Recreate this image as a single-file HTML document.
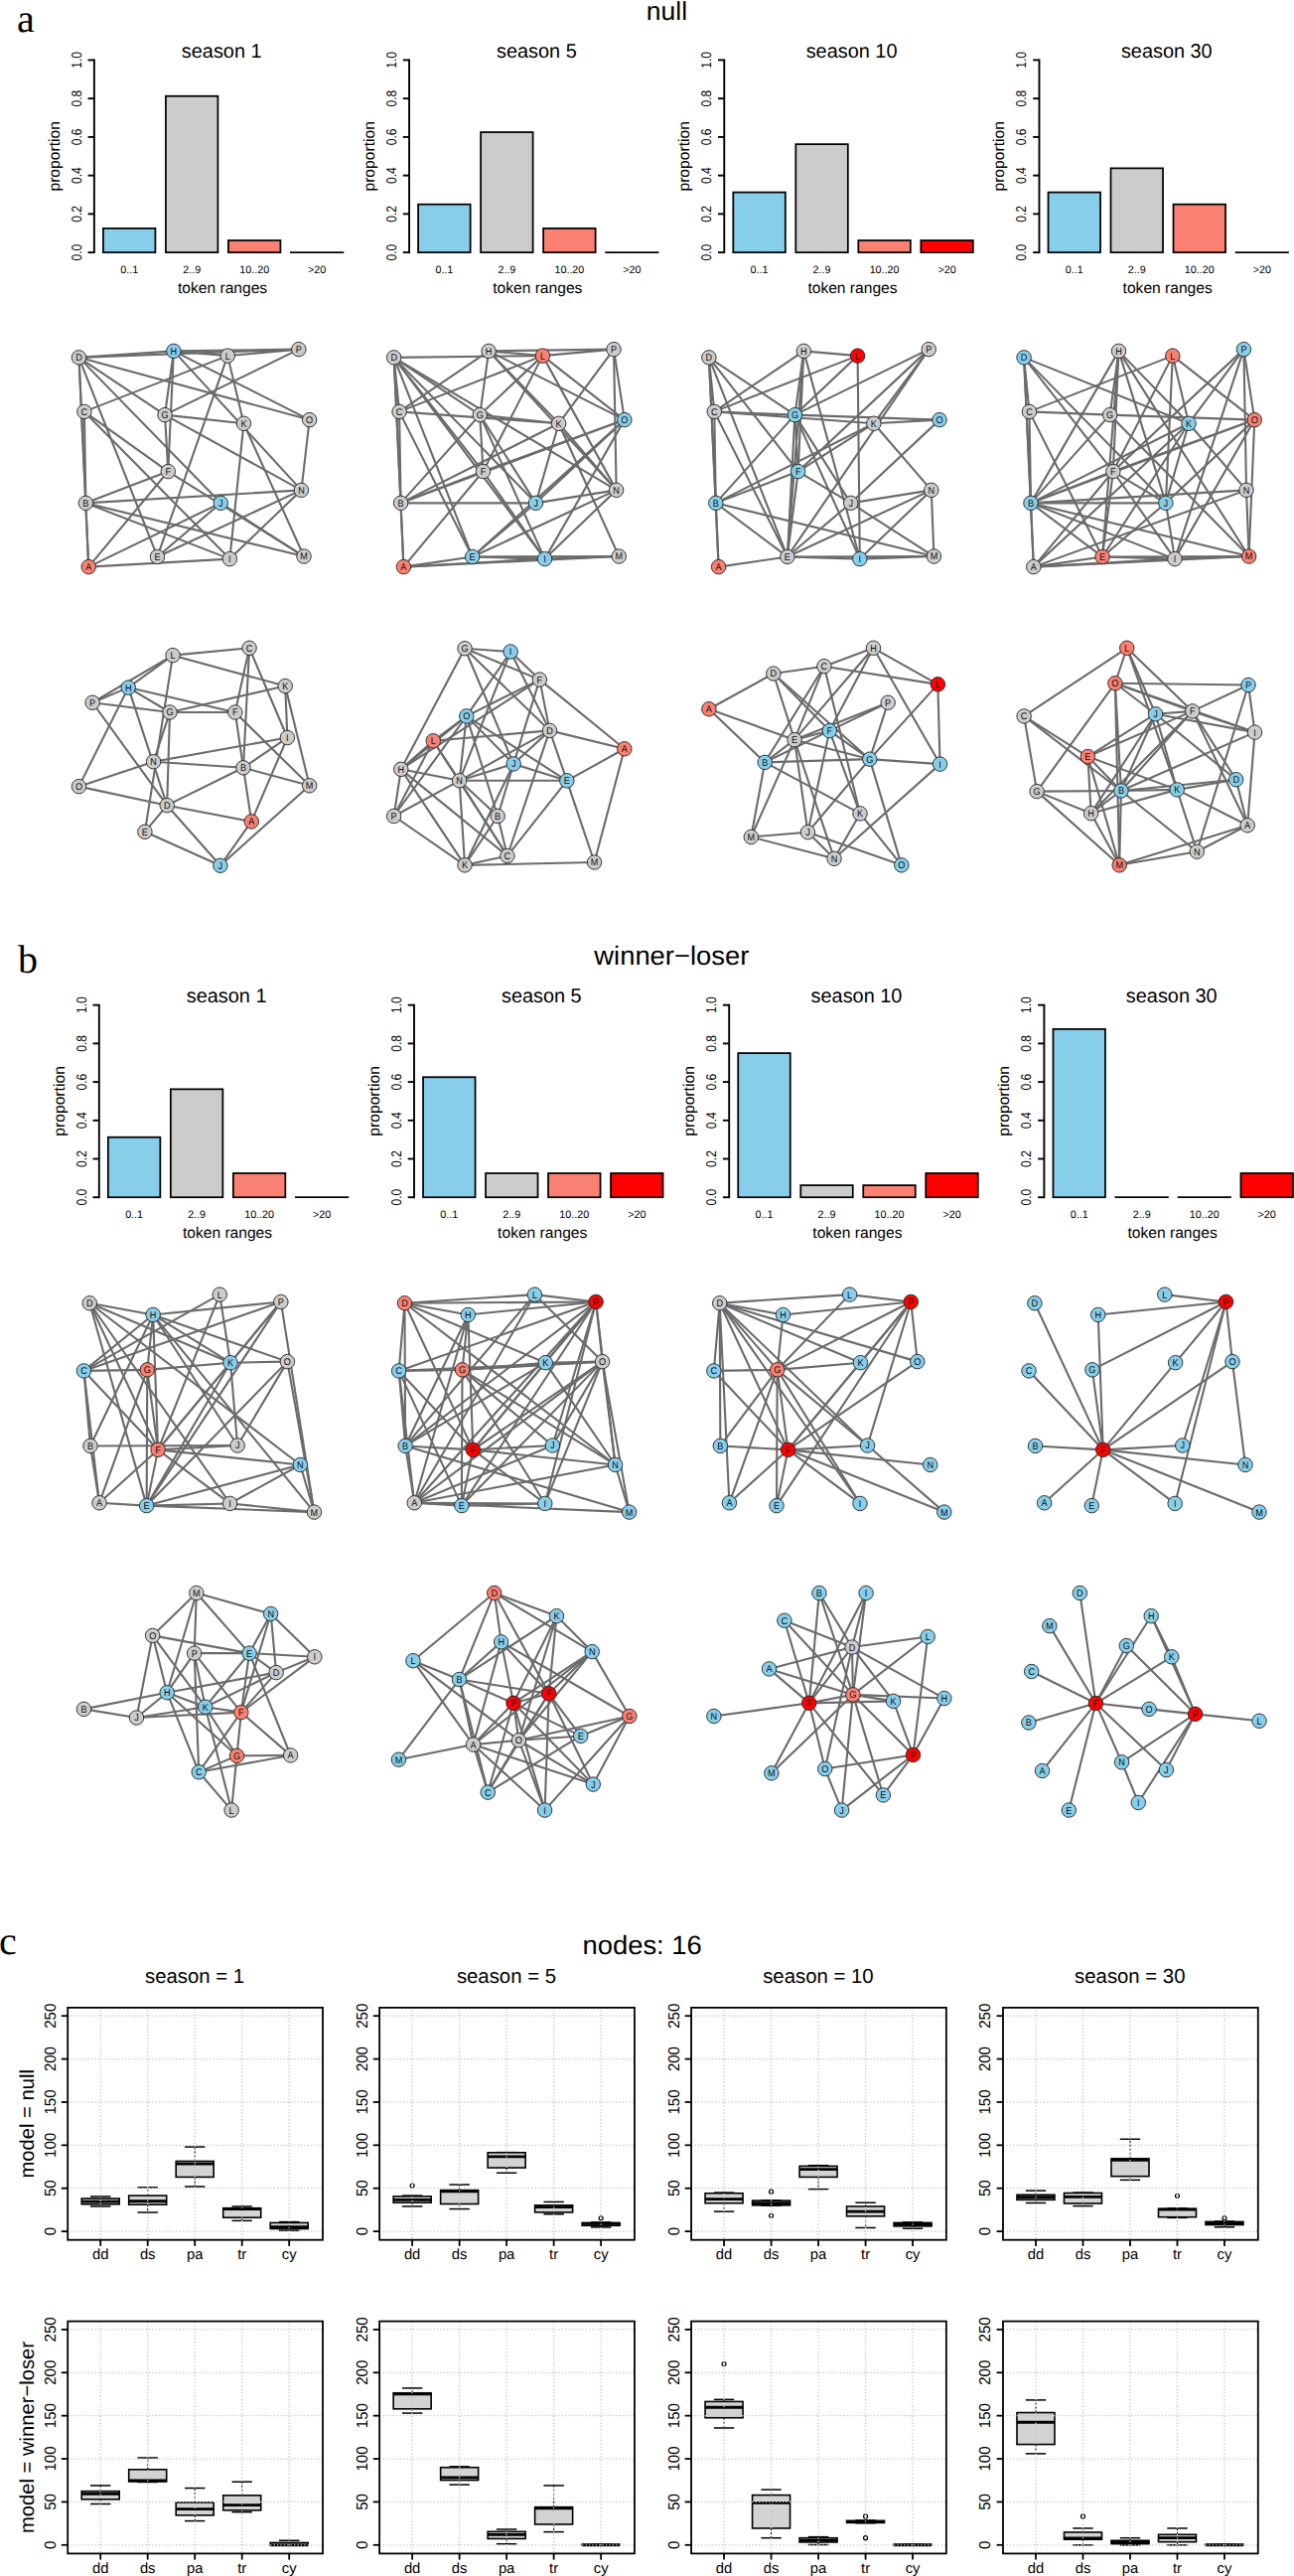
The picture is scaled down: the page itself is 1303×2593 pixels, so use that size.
<!DOCTYPE html>
<html lang="en"><head><meta charset="utf-8"><title>figure</title>
<style>html,body{margin:0;padding:0;background:#fff}svg{display:block}text{font-family:"Liberation Sans", Arial, Helvetica, sans-serif;text-rendering:geometricPrecision}</style></head>
<body>
<svg width="1303" height="2593" viewBox="0 0 1303 2593">
<rect width="1303" height="2593" fill="#fff"/>
<text transform="translate(17,31.8)" font-size="40" text-anchor="start" fill="#000" style='font-family:"Liberation Serif", "Times New Roman", serif'>a</text>
<text transform="translate(18,979)" font-size="40" text-anchor="start" fill="#000" style='font-family:"Liberation Serif", "Times New Roman", serif'>b</text>
<text transform="translate(-1,1966.8)" font-size="40" text-anchor="start" fill="#000" style='font-family:"Liberation Serif", "Times New Roman", serif'>c</text>
<text transform="translate(671.5,20) scale(1.02,1)" font-size="26" text-anchor="middle" fill="#000">null</text>
<text transform="translate(676.3,970.5) scale(1.03,1)" font-size="26.6" text-anchor="middle" fill="#000">winner−loser</text>
<text transform="translate(646.6,1966.5) scale(1.03,1)" font-size="26.6" text-anchor="middle" fill="#000">nodes: 16</text>
<g stroke="#000" stroke-width="1.9" fill="none" stroke-linecap="butt">
<path d="M94.87 59.5V255.05"/>
<path d="M88.57 254.1H94.87"/>
<path d="M88.57 215.37H94.87"/>
<path d="M88.57 176.64H94.87"/>
<path d="M88.57 137.91H94.87"/>
<path d="M88.57 99.18H94.87"/>
<path d="M88.57 60.45H94.87"/>
</g>
<text transform="translate(81.57,254.1) rotate(-90) scale(0.85,1)" font-size="14.2" text-anchor="middle" fill="#000">0.0</text>
<text transform="translate(81.57,215.37) rotate(-90) scale(0.85,1)" font-size="14.2" text-anchor="middle" fill="#000">0.2</text>
<text transform="translate(81.57,176.64) rotate(-90) scale(0.85,1)" font-size="14.2" text-anchor="middle" fill="#000">0.4</text>
<text transform="translate(81.57,137.91) rotate(-90) scale(0.85,1)" font-size="14.2" text-anchor="middle" fill="#000">0.6</text>
<text transform="translate(81.57,99.18) rotate(-90) scale(0.85,1)" font-size="14.2" text-anchor="middle" fill="#000">0.8</text>
<text transform="translate(81.57,60.45) rotate(-90) scale(0.85,1)" font-size="14.2" text-anchor="middle" fill="#000">1.0</text>
<text transform="translate(59.67,157.28) rotate(-90)" font-size="15.7" text-anchor="middle" fill="#000">proportion</text>
<text transform="translate(223.17,57.6)" font-size="19.9" text-anchor="middle" fill="#000">season 1</text>
<text transform="translate(224.07,294.7)" font-size="15.6" text-anchor="middle" fill="#000">token ranges</text>
<g stroke="#000" stroke-width="1.75" stroke-linejoin="miter">
<rect x="103.92" y="229.89" width="52.5" height="24.21" fill="#87CEEB"/>
<rect x="166.92" y="96.76" width="52.5" height="157.34" fill="#CCCCCC"/>
<rect x="229.92" y="242" width="52.5" height="12.1" fill="#FA8072"/>
<path d="M292.07 254.1H346.27"/>
</g>
<text transform="translate(130.17,274.5)" font-size="10.75" text-anchor="middle" fill="#000">0..1</text>
<text transform="translate(193.17,274.5)" font-size="10.75" text-anchor="middle" fill="#000">2..9</text>
<text transform="translate(256.17,274.5)" font-size="10.75" text-anchor="middle" fill="#000">10..20</text>
<text transform="translate(319.17,274.5)" font-size="10.75" text-anchor="middle" fill="#000">&gt;20</text>
<g stroke="#000" stroke-width="1.9" fill="none" stroke-linecap="butt">
<path d="M99.8 1010.75V1206.15"/>
<path d="M93.5 1205.2H99.8"/>
<path d="M93.5 1166.5H99.8"/>
<path d="M93.5 1127.8H99.8"/>
<path d="M93.5 1089.1H99.8"/>
<path d="M93.5 1050.4H99.8"/>
<path d="M93.5 1011.7H99.8"/>
</g>
<text transform="translate(86.5,1205.2) rotate(-90) scale(0.85,1)" font-size="14.2" text-anchor="middle" fill="#000">0.0</text>
<text transform="translate(86.5,1166.5) rotate(-90) scale(0.85,1)" font-size="14.2" text-anchor="middle" fill="#000">0.2</text>
<text transform="translate(86.5,1127.8) rotate(-90) scale(0.85,1)" font-size="14.2" text-anchor="middle" fill="#000">0.4</text>
<text transform="translate(86.5,1089.1) rotate(-90) scale(0.85,1)" font-size="14.2" text-anchor="middle" fill="#000">0.6</text>
<text transform="translate(86.5,1050.4) rotate(-90) scale(0.85,1)" font-size="14.2" text-anchor="middle" fill="#000">0.8</text>
<text transform="translate(86.5,1011.7) rotate(-90) scale(0.85,1)" font-size="14.2" text-anchor="middle" fill="#000">1.0</text>
<text transform="translate(64.6,1108.45) rotate(-90)" font-size="15.7" text-anchor="middle" fill="#000">proportion</text>
<text transform="translate(228.1,1008.85)" font-size="19.9" text-anchor="middle" fill="#000">season 1</text>
<text transform="translate(229,1245.8)" font-size="15.6" text-anchor="middle" fill="#000">token ranges</text>
<g stroke="#000" stroke-width="1.75" stroke-linejoin="miter">
<rect x="108.85" y="1144.73" width="52.5" height="60.47" fill="#87CEEB"/>
<rect x="171.85" y="1096.36" width="52.5" height="108.84" fill="#CCCCCC"/>
<rect x="234.85" y="1181.01" width="52.5" height="24.19" fill="#FA8072"/>
<path d="M297 1205.2H351.2"/>
</g>
<text transform="translate(135.1,1225.6)" font-size="10.75" text-anchor="middle" fill="#000">0..1</text>
<text transform="translate(198.1,1225.6)" font-size="10.75" text-anchor="middle" fill="#000">2..9</text>
<text transform="translate(261.1,1225.6)" font-size="10.75" text-anchor="middle" fill="#000">10..20</text>
<text transform="translate(324.1,1225.6)" font-size="10.75" text-anchor="middle" fill="#000">&gt;20</text>
<g stroke="#000" stroke-width="1.9" fill="none" stroke-linecap="butt">
<path d="M412.07 59.5V255.05"/>
<path d="M405.77 254.1H412.07"/>
<path d="M405.77 215.37H412.07"/>
<path d="M405.77 176.64H412.07"/>
<path d="M405.77 137.91H412.07"/>
<path d="M405.77 99.18H412.07"/>
<path d="M405.77 60.45H412.07"/>
</g>
<text transform="translate(398.77,254.1) rotate(-90) scale(0.85,1)" font-size="14.2" text-anchor="middle" fill="#000">0.0</text>
<text transform="translate(398.77,215.37) rotate(-90) scale(0.85,1)" font-size="14.2" text-anchor="middle" fill="#000">0.2</text>
<text transform="translate(398.77,176.64) rotate(-90) scale(0.85,1)" font-size="14.2" text-anchor="middle" fill="#000">0.4</text>
<text transform="translate(398.77,137.91) rotate(-90) scale(0.85,1)" font-size="14.2" text-anchor="middle" fill="#000">0.6</text>
<text transform="translate(398.77,99.18) rotate(-90) scale(0.85,1)" font-size="14.2" text-anchor="middle" fill="#000">0.8</text>
<text transform="translate(398.77,60.45) rotate(-90) scale(0.85,1)" font-size="14.2" text-anchor="middle" fill="#000">1.0</text>
<text transform="translate(376.87,157.28) rotate(-90)" font-size="15.7" text-anchor="middle" fill="#000">proportion</text>
<text transform="translate(540.37,57.6)" font-size="19.9" text-anchor="middle" fill="#000">season 5</text>
<text transform="translate(541.27,294.7)" font-size="15.6" text-anchor="middle" fill="#000">token ranges</text>
<g stroke="#000" stroke-width="1.75" stroke-linejoin="miter">
<rect x="421.12" y="205.69" width="52.5" height="48.41" fill="#87CEEB"/>
<rect x="484.12" y="133.07" width="52.5" height="121.03" fill="#CCCCCC"/>
<rect x="547.12" y="229.89" width="52.5" height="24.21" fill="#FA8072"/>
<path d="M609.27 254.1H663.47"/>
</g>
<text transform="translate(447.37,274.5)" font-size="10.75" text-anchor="middle" fill="#000">0..1</text>
<text transform="translate(510.37,274.5)" font-size="10.75" text-anchor="middle" fill="#000">2..9</text>
<text transform="translate(573.37,274.5)" font-size="10.75" text-anchor="middle" fill="#000">10..20</text>
<text transform="translate(636.37,274.5)" font-size="10.75" text-anchor="middle" fill="#000">&gt;20</text>
<g stroke="#000" stroke-width="1.9" fill="none" stroke-linecap="butt">
<path d="M417 1010.75V1206.15"/>
<path d="M410.7 1205.2H417"/>
<path d="M410.7 1166.5H417"/>
<path d="M410.7 1127.8H417"/>
<path d="M410.7 1089.1H417"/>
<path d="M410.7 1050.4H417"/>
<path d="M410.7 1011.7H417"/>
</g>
<text transform="translate(403.7,1205.2) rotate(-90) scale(0.85,1)" font-size="14.2" text-anchor="middle" fill="#000">0.0</text>
<text transform="translate(403.7,1166.5) rotate(-90) scale(0.85,1)" font-size="14.2" text-anchor="middle" fill="#000">0.2</text>
<text transform="translate(403.7,1127.8) rotate(-90) scale(0.85,1)" font-size="14.2" text-anchor="middle" fill="#000">0.4</text>
<text transform="translate(403.7,1089.1) rotate(-90) scale(0.85,1)" font-size="14.2" text-anchor="middle" fill="#000">0.6</text>
<text transform="translate(403.7,1050.4) rotate(-90) scale(0.85,1)" font-size="14.2" text-anchor="middle" fill="#000">0.8</text>
<text transform="translate(403.7,1011.7) rotate(-90) scale(0.85,1)" font-size="14.2" text-anchor="middle" fill="#000">1.0</text>
<text transform="translate(381.8,1108.45) rotate(-90)" font-size="15.7" text-anchor="middle" fill="#000">proportion</text>
<text transform="translate(545.3,1008.85)" font-size="19.9" text-anchor="middle" fill="#000">season 5</text>
<text transform="translate(546.2,1245.8)" font-size="15.6" text-anchor="middle" fill="#000">token ranges</text>
<g stroke="#000" stroke-width="1.75" stroke-linejoin="miter">
<rect x="426.05" y="1084.26" width="52.5" height="120.94" fill="#87CEEB"/>
<rect x="489.05" y="1181.01" width="52.5" height="24.19" fill="#CCCCCC"/>
<rect x="552.05" y="1181.01" width="52.5" height="24.19" fill="#FA8072"/>
<rect x="615.05" y="1181.01" width="52.5" height="24.19" fill="#FF0000"/>
</g>
<text transform="translate(452.3,1225.6)" font-size="10.75" text-anchor="middle" fill="#000">0..1</text>
<text transform="translate(515.3,1225.6)" font-size="10.75" text-anchor="middle" fill="#000">2..9</text>
<text transform="translate(578.3,1225.6)" font-size="10.75" text-anchor="middle" fill="#000">10..20</text>
<text transform="translate(641.3,1225.6)" font-size="10.75" text-anchor="middle" fill="#000">&gt;20</text>
<g stroke="#000" stroke-width="1.9" fill="none" stroke-linecap="butt">
<path d="M729.27 59.5V255.05"/>
<path d="M722.97 254.1H729.27"/>
<path d="M722.97 215.37H729.27"/>
<path d="M722.97 176.64H729.27"/>
<path d="M722.97 137.91H729.27"/>
<path d="M722.97 99.18H729.27"/>
<path d="M722.97 60.45H729.27"/>
</g>
<text transform="translate(715.97,254.1) rotate(-90) scale(0.85,1)" font-size="14.2" text-anchor="middle" fill="#000">0.0</text>
<text transform="translate(715.97,215.37) rotate(-90) scale(0.85,1)" font-size="14.2" text-anchor="middle" fill="#000">0.2</text>
<text transform="translate(715.97,176.64) rotate(-90) scale(0.85,1)" font-size="14.2" text-anchor="middle" fill="#000">0.4</text>
<text transform="translate(715.97,137.91) rotate(-90) scale(0.85,1)" font-size="14.2" text-anchor="middle" fill="#000">0.6</text>
<text transform="translate(715.97,99.18) rotate(-90) scale(0.85,1)" font-size="14.2" text-anchor="middle" fill="#000">0.8</text>
<text transform="translate(715.97,60.45) rotate(-90) scale(0.85,1)" font-size="14.2" text-anchor="middle" fill="#000">1.0</text>
<text transform="translate(694.07,157.28) rotate(-90)" font-size="15.7" text-anchor="middle" fill="#000">proportion</text>
<text transform="translate(857.57,57.6)" font-size="19.9" text-anchor="middle" fill="#000">season 10</text>
<text transform="translate(858.47,294.7)" font-size="15.6" text-anchor="middle" fill="#000">token ranges</text>
<g stroke="#000" stroke-width="1.75" stroke-linejoin="miter">
<rect x="738.32" y="193.58" width="52.5" height="60.52" fill="#87CEEB"/>
<rect x="801.32" y="145.17" width="52.5" height="108.93" fill="#CCCCCC"/>
<rect x="864.32" y="242" width="52.5" height="12.1" fill="#FA8072"/>
<rect x="927.32" y="242" width="52.5" height="12.1" fill="#FF0000"/>
</g>
<text transform="translate(764.57,274.5)" font-size="10.75" text-anchor="middle" fill="#000">0..1</text>
<text transform="translate(827.57,274.5)" font-size="10.75" text-anchor="middle" fill="#000">2..9</text>
<text transform="translate(890.57,274.5)" font-size="10.75" text-anchor="middle" fill="#000">10..20</text>
<text transform="translate(953.57,274.5)" font-size="10.75" text-anchor="middle" fill="#000">&gt;20</text>
<g stroke="#000" stroke-width="1.9" fill="none" stroke-linecap="butt">
<path d="M734.2 1010.75V1206.15"/>
<path d="M727.9 1205.2H734.2"/>
<path d="M727.9 1166.5H734.2"/>
<path d="M727.9 1127.8H734.2"/>
<path d="M727.9 1089.1H734.2"/>
<path d="M727.9 1050.4H734.2"/>
<path d="M727.9 1011.7H734.2"/>
</g>
<text transform="translate(720.9,1205.2) rotate(-90) scale(0.85,1)" font-size="14.2" text-anchor="middle" fill="#000">0.0</text>
<text transform="translate(720.9,1166.5) rotate(-90) scale(0.85,1)" font-size="14.2" text-anchor="middle" fill="#000">0.2</text>
<text transform="translate(720.9,1127.8) rotate(-90) scale(0.85,1)" font-size="14.2" text-anchor="middle" fill="#000">0.4</text>
<text transform="translate(720.9,1089.1) rotate(-90) scale(0.85,1)" font-size="14.2" text-anchor="middle" fill="#000">0.6</text>
<text transform="translate(720.9,1050.4) rotate(-90) scale(0.85,1)" font-size="14.2" text-anchor="middle" fill="#000">0.8</text>
<text transform="translate(720.9,1011.7) rotate(-90) scale(0.85,1)" font-size="14.2" text-anchor="middle" fill="#000">1.0</text>
<text transform="translate(699,1108.45) rotate(-90)" font-size="15.7" text-anchor="middle" fill="#000">proportion</text>
<text transform="translate(862.5,1008.85)" font-size="19.9" text-anchor="middle" fill="#000">season 10</text>
<text transform="translate(863.4,1245.8)" font-size="15.6" text-anchor="middle" fill="#000">token ranges</text>
<g stroke="#000" stroke-width="1.75" stroke-linejoin="miter">
<rect x="743.25" y="1060.08" width="52.5" height="145.12" fill="#87CEEB"/>
<rect x="806.25" y="1193.11" width="52.5" height="12.09" fill="#CCCCCC"/>
<rect x="869.25" y="1193.11" width="52.5" height="12.09" fill="#FA8072"/>
<rect x="932.25" y="1181.01" width="52.5" height="24.19" fill="#FF0000"/>
</g>
<text transform="translate(769.5,1225.6)" font-size="10.75" text-anchor="middle" fill="#000">0..1</text>
<text transform="translate(832.5,1225.6)" font-size="10.75" text-anchor="middle" fill="#000">2..9</text>
<text transform="translate(895.5,1225.6)" font-size="10.75" text-anchor="middle" fill="#000">10..20</text>
<text transform="translate(958.5,1225.6)" font-size="10.75" text-anchor="middle" fill="#000">&gt;20</text>
<g stroke="#000" stroke-width="1.9" fill="none" stroke-linecap="butt">
<path d="M1046.47 59.5V255.05"/>
<path d="M1040.17 254.1H1046.47"/>
<path d="M1040.17 215.37H1046.47"/>
<path d="M1040.17 176.64H1046.47"/>
<path d="M1040.17 137.91H1046.47"/>
<path d="M1040.17 99.18H1046.47"/>
<path d="M1040.17 60.45H1046.47"/>
</g>
<text transform="translate(1033.17,254.1) rotate(-90) scale(0.85,1)" font-size="14.2" text-anchor="middle" fill="#000">0.0</text>
<text transform="translate(1033.17,215.37) rotate(-90) scale(0.85,1)" font-size="14.2" text-anchor="middle" fill="#000">0.2</text>
<text transform="translate(1033.17,176.64) rotate(-90) scale(0.85,1)" font-size="14.2" text-anchor="middle" fill="#000">0.4</text>
<text transform="translate(1033.17,137.91) rotate(-90) scale(0.85,1)" font-size="14.2" text-anchor="middle" fill="#000">0.6</text>
<text transform="translate(1033.17,99.18) rotate(-90) scale(0.85,1)" font-size="14.2" text-anchor="middle" fill="#000">0.8</text>
<text transform="translate(1033.17,60.45) rotate(-90) scale(0.85,1)" font-size="14.2" text-anchor="middle" fill="#000">1.0</text>
<text transform="translate(1011.27,157.28) rotate(-90)" font-size="15.7" text-anchor="middle" fill="#000">proportion</text>
<text transform="translate(1174.77,57.6)" font-size="19.9" text-anchor="middle" fill="#000">season 30</text>
<text transform="translate(1175.67,294.7)" font-size="15.6" text-anchor="middle" fill="#000">token ranges</text>
<g stroke="#000" stroke-width="1.75" stroke-linejoin="miter">
<rect x="1055.52" y="193.58" width="52.5" height="60.52" fill="#87CEEB"/>
<rect x="1118.52" y="169.38" width="52.5" height="84.72" fill="#CCCCCC"/>
<rect x="1181.52" y="205.69" width="52.5" height="48.41" fill="#FA8072"/>
<path d="M1243.67 254.1H1297.87"/>
</g>
<text transform="translate(1081.77,274.5)" font-size="10.75" text-anchor="middle" fill="#000">0..1</text>
<text transform="translate(1144.77,274.5)" font-size="10.75" text-anchor="middle" fill="#000">2..9</text>
<text transform="translate(1207.77,274.5)" font-size="10.75" text-anchor="middle" fill="#000">10..20</text>
<text transform="translate(1270.77,274.5)" font-size="10.75" text-anchor="middle" fill="#000">&gt;20</text>
<g stroke="#000" stroke-width="1.9" fill="none" stroke-linecap="butt">
<path d="M1051.4 1010.75V1206.15"/>
<path d="M1045.1 1205.2H1051.4"/>
<path d="M1045.1 1166.5H1051.4"/>
<path d="M1045.1 1127.8H1051.4"/>
<path d="M1045.1 1089.1H1051.4"/>
<path d="M1045.1 1050.4H1051.4"/>
<path d="M1045.1 1011.7H1051.4"/>
</g>
<text transform="translate(1038.1,1205.2) rotate(-90) scale(0.85,1)" font-size="14.2" text-anchor="middle" fill="#000">0.0</text>
<text transform="translate(1038.1,1166.5) rotate(-90) scale(0.85,1)" font-size="14.2" text-anchor="middle" fill="#000">0.2</text>
<text transform="translate(1038.1,1127.8) rotate(-90) scale(0.85,1)" font-size="14.2" text-anchor="middle" fill="#000">0.4</text>
<text transform="translate(1038.1,1089.1) rotate(-90) scale(0.85,1)" font-size="14.2" text-anchor="middle" fill="#000">0.6</text>
<text transform="translate(1038.1,1050.4) rotate(-90) scale(0.85,1)" font-size="14.2" text-anchor="middle" fill="#000">0.8</text>
<text transform="translate(1038.1,1011.7) rotate(-90) scale(0.85,1)" font-size="14.2" text-anchor="middle" fill="#000">1.0</text>
<text transform="translate(1016.2,1108.45) rotate(-90)" font-size="15.7" text-anchor="middle" fill="#000">proportion</text>
<text transform="translate(1179.7,1008.85)" font-size="19.9" text-anchor="middle" fill="#000">season 30</text>
<text transform="translate(1180.6,1245.8)" font-size="15.6" text-anchor="middle" fill="#000">token ranges</text>
<g stroke="#000" stroke-width="1.75" stroke-linejoin="miter">
<rect x="1060.45" y="1035.89" width="52.5" height="169.31" fill="#87CEEB"/>
<path d="M1122.6 1205.2H1176.8"/>
<path d="M1185.6 1205.2H1239.8"/>
<rect x="1249.45" y="1181.01" width="52.5" height="24.19" fill="#FF0000"/>
</g>
<text transform="translate(1086.7,1225.6)" font-size="10.75" text-anchor="middle" fill="#000">0..1</text>
<text transform="translate(1149.7,1225.6)" font-size="10.75" text-anchor="middle" fill="#000">2..9</text>
<text transform="translate(1212.7,1225.6)" font-size="10.75" text-anchor="middle" fill="#000">10..20</text>
<text transform="translate(1275.7,1225.6)" font-size="10.75" text-anchor="middle" fill="#000">&gt;20</text>
<g stroke="#6b6b6b" stroke-width="2.1" stroke-linecap="round">
<path d="M229.21 358.13L84.88 414.39"/>
<path d="M229.21 358.13L245.44 426.29"/>
<path d="M229.21 358.13L174.9 353.37"/>
<path d="M229.21 358.13L300.83 351.64"/>
<path d="M229.21 358.13L158.45 560.45"/>
<path d="M84.88 414.39L169.27 474.54"/>
<path d="M84.88 414.39L86.4 506.35"/>
<path d="M84.88 414.39L231.38 562.61"/>
<path d="M174.9 353.37L300.83 351.64"/>
<path d="M174.9 353.37L166.03 417.64"/>
<path d="M174.9 353.37L169.27 474.54"/>
<path d="M174.9 353.37L79.47 359.86"/>
<path d="M174.9 353.37L311.65 422.61"/>
<path d="M174.9 353.37L303.43 493.37"/>
<path d="M245.44 426.29L166.03 417.64"/>
<path d="M245.44 426.29L231.38 562.61"/>
<path d="M245.44 426.29L306.03 560.02"/>
<path d="M300.83 351.64L166.03 417.64"/>
<path d="M300.83 351.64L79.47 359.86"/>
<path d="M166.03 417.64L169.27 474.54"/>
<path d="M166.03 417.64L79.47 359.86"/>
<path d="M166.03 417.64L303.43 493.37"/>
<path d="M169.27 474.54L86.4 506.35"/>
<path d="M169.27 474.54L306.03 560.02"/>
<path d="M231.38 562.61L303.43 493.37"/>
<path d="M231.38 562.61L86.4 506.35"/>
<path d="M231.38 562.61L89.21 570.62"/>
<path d="M303.43 493.37L86.4 506.35"/>
<path d="M303.43 493.37L311.65 422.61"/>
<path d="M86.4 506.35L79.47 359.86"/>
<path d="M86.4 506.35L89.21 570.62"/>
<path d="M86.4 506.35L306.03 560.02"/>
<path d="M311.65 422.61L79.47 359.86"/>
<path d="M306.03 560.02L222.29 506.35"/>
<path d="M79.47 359.86L89.21 570.62"/>
<path d="M79.47 359.86L158.45 560.45"/>
<path d="M79.47 359.86L222.29 506.35"/>
<path d="M89.21 570.62L222.29 506.35"/>
<path d="M158.45 560.45L222.29 506.35"/>
<path d="M89.21 570.62L169.27 474.54"/>
<path d="M303.43 493.37L158.45 560.45"/>
</g>
<g stroke="#222" stroke-width="0.9">
<circle cx="79.47" cy="359.86" r="7.25" fill="#CCCCCC"/>
<circle cx="174.9" cy="353.37" r="7.25" fill="#87CEEB"/>
<circle cx="229.21" cy="358.13" r="7.25" fill="#CCCCCC"/>
<circle cx="300.83" cy="351.64" r="7.25" fill="#CCCCCC"/>
<circle cx="84.88" cy="414.39" r="7.25" fill="#CCCCCC"/>
<circle cx="166.03" cy="417.64" r="7.25" fill="#CCCCCC"/>
<circle cx="245.44" cy="426.29" r="7.25" fill="#CCCCCC"/>
<circle cx="311.65" cy="422.61" r="7.25" fill="#CCCCCC"/>
<circle cx="169.27" cy="474.54" r="7.25" fill="#CCCCCC"/>
<circle cx="86.4" cy="506.35" r="7.25" fill="#CCCCCC"/>
<circle cx="222.29" cy="506.35" r="7.25" fill="#87CEEB"/>
<circle cx="303.43" cy="493.37" r="7.25" fill="#CCCCCC"/>
<circle cx="89.21" cy="570.62" r="7.25" fill="#FA8072"/>
<circle cx="158.45" cy="560.45" r="7.25" fill="#CCCCCC"/>
<circle cx="231.38" cy="562.61" r="7.25" fill="#CCCCCC"/>
<circle cx="306.03" cy="560.02" r="7.25" fill="#CCCCCC"/>
</g>
<g font-size="9.8" text-anchor="middle" fill="#111">
<text transform="translate(79.47,363.31) scale(0.93,1)">D</text>
<text transform="translate(174.9,356.82) scale(0.93,1)">H</text>
<text transform="translate(229.21,361.58) scale(0.93,1)">L</text>
<text transform="translate(300.83,355.09) scale(0.93,1)">P</text>
<text transform="translate(84.88,417.84) scale(0.93,1)">C</text>
<text transform="translate(166.03,421.09) scale(0.93,1)">G</text>
<text transform="translate(245.44,429.74) scale(0.93,1)">K</text>
<text transform="translate(311.65,426.06) scale(0.93,1)">O</text>
<text transform="translate(169.27,477.99) scale(0.93,1)">F</text>
<text transform="translate(86.4,509.8) scale(0.93,1)">B</text>
<text transform="translate(222.29,509.8) scale(0.93,1)">J</text>
<text transform="translate(303.43,496.82) scale(0.93,1)">N</text>
<text transform="translate(89.21,574.07) scale(0.93,1)">A</text>
<text transform="translate(158.45,563.9) scale(0.93,1)">E</text>
<text transform="translate(231.38,566.06) scale(0.93,1)">I</text>
<text transform="translate(306.03,563.47) scale(0.93,1)">M</text>
</g>
<g stroke="#6b6b6b" stroke-width="2.1" stroke-linecap="round">
<path d="M174.03 659.64L251.07 652.29"/>
<path d="M174.03 659.64L287.2 690.59"/>
<path d="M174.03 659.64L129.24 692.1"/>
<path d="M174.03 659.64L93.11 707.25"/>
<path d="M174.03 659.64L145.9 837.3"/>
<path d="M251.07 652.29L236.79 716.99"/>
<path d="M251.07 652.29L245.01 772.81"/>
<path d="M251.07 652.29L289.37 742.52"/>
<path d="M129.24 692.1L93.11 707.25"/>
<path d="M129.24 692.1L171 716.99"/>
<path d="M129.24 692.1L236.79 716.99"/>
<path d="M129.24 692.1L168.19 810.68"/>
<path d="M129.24 692.1L79.47 791.64"/>
<path d="M287.2 690.59L171 716.99"/>
<path d="M287.2 690.59L289.37 742.52"/>
<path d="M287.2 690.59L311.65 790.77"/>
<path d="M93.11 707.25L171 716.99"/>
<path d="M93.11 707.25L168.19 810.68"/>
<path d="M171 716.99L236.79 716.99"/>
<path d="M171 716.99L168.19 810.68"/>
<path d="M171 716.99L154.56 766.75"/>
<path d="M236.79 716.99L245.01 772.81"/>
<path d="M236.79 716.99L311.65 790.77"/>
<path d="M289.37 742.52L154.56 766.75"/>
<path d="M289.37 742.52L245.01 772.81"/>
<path d="M289.37 742.52L253.23 826.91"/>
<path d="M154.56 766.75L245.01 772.81"/>
<path d="M154.56 766.75L79.47 791.64"/>
<path d="M245.01 772.81L168.19 810.68"/>
<path d="M245.01 772.81L253.23 826.91"/>
<path d="M245.01 772.81L311.65 790.77"/>
<path d="M79.47 791.64L168.19 810.68"/>
<path d="M311.65 790.77L221.85 871.27"/>
<path d="M168.19 810.68L253.23 826.91"/>
<path d="M168.19 810.68L145.9 837.3"/>
<path d="M168.19 810.68L221.85 871.27"/>
<path d="M253.23 826.91L221.85 871.27"/>
<path d="M145.9 837.3L221.85 871.27"/>
</g>
<g stroke="#222" stroke-width="0.9">
<circle cx="174.03" cy="659.64" r="7.25" fill="#CCCCCC"/>
<circle cx="251.07" cy="652.29" r="7.25" fill="#CCCCCC"/>
<circle cx="129.24" cy="692.1" r="7.25" fill="#87CEEB"/>
<circle cx="287.2" cy="690.59" r="7.25" fill="#CCCCCC"/>
<circle cx="93.11" cy="707.25" r="7.25" fill="#CCCCCC"/>
<circle cx="171" cy="716.99" r="7.25" fill="#CCCCCC"/>
<circle cx="236.79" cy="716.99" r="7.25" fill="#CCCCCC"/>
<circle cx="289.37" cy="742.52" r="7.25" fill="#CCCCCC"/>
<circle cx="154.56" cy="766.75" r="7.25" fill="#CCCCCC"/>
<circle cx="245.01" cy="772.81" r="7.25" fill="#CCCCCC"/>
<circle cx="79.47" cy="791.64" r="7.25" fill="#CCCCCC"/>
<circle cx="311.65" cy="790.77" r="7.25" fill="#CCCCCC"/>
<circle cx="168.19" cy="810.68" r="7.25" fill="#CCCCCC"/>
<circle cx="253.23" cy="826.91" r="7.25" fill="#FA8072"/>
<circle cx="145.9" cy="837.3" r="7.25" fill="#CCCCCC"/>
<circle cx="221.85" cy="871.27" r="7.25" fill="#87CEEB"/>
</g>
<g font-size="9.8" text-anchor="middle" fill="#111">
<text transform="translate(174.03,663.09) scale(0.93,1)">L</text>
<text transform="translate(251.07,655.74) scale(0.93,1)">C</text>
<text transform="translate(129.24,695.55) scale(0.93,1)">H</text>
<text transform="translate(287.2,694.04) scale(0.93,1)">K</text>
<text transform="translate(93.11,710.7) scale(0.93,1)">P</text>
<text transform="translate(171,720.44) scale(0.93,1)">G</text>
<text transform="translate(236.79,720.44) scale(0.93,1)">F</text>
<text transform="translate(289.37,745.97) scale(0.93,1)">I</text>
<text transform="translate(154.56,770.2) scale(0.93,1)">N</text>
<text transform="translate(245.01,776.26) scale(0.93,1)">B</text>
<text transform="translate(79.47,795.09) scale(0.93,1)">O</text>
<text transform="translate(311.65,794.22) scale(0.93,1)">M</text>
<text transform="translate(168.19,814.13) scale(0.93,1)">D</text>
<text transform="translate(253.23,830.36) scale(0.93,1)">A</text>
<text transform="translate(145.9,840.75) scale(0.93,1)">E</text>
<text transform="translate(221.85,874.72) scale(0.93,1)">J</text>
</g>
<g stroke="#6b6b6b" stroke-width="2.1" stroke-linecap="round">
<path d="M316.41 1522.09L302.35 1474.48"/>
<path d="M316.41 1522.09L289.37 1370.62"/>
<path d="M316.41 1522.09L154.13 1323.45"/>
<path d="M316.41 1522.09L282.87 1310.46"/>
<path d="M316.41 1522.09L147.64 1515.6"/>
<path d="M302.35 1474.48L147.64 1515.6"/>
<path d="M302.35 1474.48L90.29 1311.76"/>
<path d="M302.35 1474.48L231.59 1513.43"/>
<path d="M302.35 1474.48L159.1 1459.34"/>
<path d="M289.37 1370.62L147.64 1515.6"/>
<path d="M289.37 1370.62L154.13 1323.45"/>
<path d="M289.37 1370.62L239.17 1455.01"/>
<path d="M289.37 1370.62L232.02 1371.7"/>
<path d="M282.87 1310.46L147.64 1515.6"/>
<path d="M282.87 1310.46L154.13 1323.45"/>
<path d="M282.87 1310.46L232.02 1371.7"/>
<path d="M282.87 1310.46L159.1 1459.34"/>
<path d="M282.87 1310.46L84.45 1379.92"/>
<path d="M147.64 1515.6L231.59 1513.43"/>
<path d="M147.64 1515.6L90.29 1311.76"/>
<path d="M147.64 1515.6L232.02 1371.7"/>
<path d="M147.64 1515.6L159.1 1459.34"/>
<path d="M147.64 1515.6L100.03 1512.78"/>
<path d="M231.59 1513.43L90.29 1311.76"/>
<path d="M231.59 1513.43L159.1 1459.34"/>
<path d="M90.29 1311.76L154.13 1323.45"/>
<path d="M90.29 1311.76L232.02 1371.7"/>
<path d="M90.29 1311.76L159.1 1459.34"/>
<path d="M154.13 1323.45L90.94 1455.44"/>
<path d="M154.13 1323.45L239.17 1455.01"/>
<path d="M154.13 1323.45L232.02 1371.7"/>
<path d="M154.13 1323.45L148.28 1378.84"/>
<path d="M154.13 1323.45L84.45 1379.92"/>
<path d="M232.02 1371.7L239.17 1455.01"/>
<path d="M232.02 1371.7L159.1 1459.34"/>
<path d="M232.02 1371.7L148.28 1378.84"/>
<path d="M232.02 1371.7L221.21 1303.11"/>
<path d="M159.1 1459.34L239.17 1455.01"/>
<path d="M159.1 1459.34L148.28 1378.84"/>
<path d="M159.1 1459.34L100.03 1512.78"/>
<path d="M159.1 1459.34L84.45 1379.92"/>
<path d="M90.94 1455.44L239.17 1455.01"/>
<path d="M148.28 1378.84L100.03 1512.78"/>
<path d="M148.28 1378.84L84.45 1379.92"/>
<path d="M100.03 1512.78L84.45 1379.92"/>
<path d="M84.45 1379.92L221.21 1303.11"/>
<path d="M84.45 1379.92L90.94 1455.44"/>
<path d="M90.94 1455.44L100.03 1512.78"/>
<path d="M231.59 1513.43L316.41 1522.09"/>
<path d="M221.21 1303.11L159.1 1459.34"/>
<path d="M154.13 1323.45L159.1 1459.34"/>
<path d="M148.28 1378.84L147.64 1515.6"/>
</g>
<g stroke="#222" stroke-width="0.9">
<circle cx="90.29" cy="1311.76" r="7.25" fill="#CCCCCC"/>
<circle cx="221.21" cy="1303.11" r="7.25" fill="#CCCCCC"/>
<circle cx="282.87" cy="1310.46" r="7.25" fill="#CCCCCC"/>
<circle cx="154.13" cy="1323.45" r="7.25" fill="#87CEEB"/>
<circle cx="84.45" cy="1379.92" r="7.25" fill="#87CEEB"/>
<circle cx="148.28" cy="1378.84" r="7.25" fill="#FA8072"/>
<circle cx="232.02" cy="1371.7" r="7.25" fill="#87CEEB"/>
<circle cx="289.37" cy="1370.62" r="7.25" fill="#CCCCCC"/>
<circle cx="90.94" cy="1455.44" r="7.25" fill="#CCCCCC"/>
<circle cx="159.1" cy="1459.34" r="7.25" fill="#FA8072"/>
<circle cx="239.17" cy="1455.01" r="7.25" fill="#CCCCCC"/>
<circle cx="302.35" cy="1474.48" r="7.25" fill="#87CEEB"/>
<circle cx="100.03" cy="1512.78" r="7.25" fill="#CCCCCC"/>
<circle cx="147.64" cy="1515.6" r="7.25" fill="#87CEEB"/>
<circle cx="231.59" cy="1513.43" r="7.25" fill="#CCCCCC"/>
<circle cx="316.41" cy="1522.09" r="7.25" fill="#CCCCCC"/>
</g>
<g font-size="9.8" text-anchor="middle" fill="#111">
<text transform="translate(90.29,1315.21) scale(0.93,1)">D</text>
<text transform="translate(221.21,1306.56) scale(0.93,1)">L</text>
<text transform="translate(282.87,1313.91) scale(0.93,1)">P</text>
<text transform="translate(154.13,1326.9) scale(0.93,1)">H</text>
<text transform="translate(84.45,1383.37) scale(0.93,1)">C</text>
<text transform="translate(148.28,1382.29) scale(0.93,1)">G</text>
<text transform="translate(232.02,1375.15) scale(0.93,1)">K</text>
<text transform="translate(289.37,1374.07) scale(0.93,1)">O</text>
<text transform="translate(90.94,1458.89) scale(0.93,1)">B</text>
<text transform="translate(159.1,1462.79) scale(0.93,1)">F</text>
<text transform="translate(239.17,1458.46) scale(0.93,1)">J</text>
<text transform="translate(302.35,1477.93) scale(0.93,1)">N</text>
<text transform="translate(100.03,1516.23) scale(0.93,1)">A</text>
<text transform="translate(147.64,1519.05) scale(0.93,1)">E</text>
<text transform="translate(231.59,1516.88) scale(0.93,1)">I</text>
<text transform="translate(316.41,1525.54) scale(0.93,1)">M</text>
</g>
<g stroke="#6b6b6b" stroke-width="2.1" stroke-linecap="round">
<path d="M197.84 1603.54L272.7 1624.53"/>
<path d="M197.84 1603.54L153.69 1646.38"/>
<path d="M197.84 1603.54L168.19 1703.72"/>
<path d="M197.84 1603.54L195.67 1664.13"/>
<path d="M197.84 1603.54L251.07 1664.13"/>
<path d="M272.7 1624.53L251.07 1664.13"/>
<path d="M272.7 1624.53L278.11 1683.6"/>
<path d="M272.7 1624.53L316.85 1667.81"/>
<path d="M272.7 1624.53L242.84 1723.63"/>
<path d="M153.69 1646.38L251.07 1664.13"/>
<path d="M153.69 1646.38L168.19 1703.72"/>
<path d="M153.69 1646.38L137.47 1729.04"/>
<path d="M153.69 1646.38L206.71 1718.22"/>
<path d="M195.67 1664.13L251.07 1664.13"/>
<path d="M195.67 1664.13L168.19 1703.72"/>
<path d="M195.67 1664.13L206.71 1718.22"/>
<path d="M195.67 1664.13L242.84 1723.63"/>
<path d="M195.67 1664.13L200.22 1783.79"/>
<path d="M251.07 1664.13L316.85 1667.81"/>
<path d="M251.07 1664.13L278.11 1683.6"/>
<path d="M251.07 1664.13L206.71 1718.22"/>
<path d="M251.07 1664.13L242.84 1723.63"/>
<path d="M251.07 1664.13L292.61 1766.91"/>
<path d="M316.85 1667.81L278.11 1683.6"/>
<path d="M316.85 1667.81L242.84 1723.63"/>
<path d="M278.11 1683.6L168.19 1703.72"/>
<path d="M278.11 1683.6L206.71 1718.22"/>
<path d="M278.11 1683.6L242.84 1723.63"/>
<path d="M168.19 1703.72L84.45 1720.39"/>
<path d="M168.19 1703.72L137.47 1729.04"/>
<path d="M168.19 1703.72L206.71 1718.22"/>
<path d="M168.19 1703.72L238.52 1767.34"/>
<path d="M168.19 1703.72L200.22 1783.79"/>
<path d="M206.71 1718.22L137.47 1729.04"/>
<path d="M206.71 1718.22L242.84 1723.63"/>
<path d="M206.71 1718.22L238.52 1767.34"/>
<path d="M206.71 1718.22L233.11 1822.09"/>
<path d="M242.84 1723.63L137.47 1729.04"/>
<path d="M242.84 1723.63L238.52 1767.34"/>
<path d="M242.84 1723.63L292.61 1766.91"/>
<path d="M242.84 1723.63L200.22 1783.79"/>
<path d="M84.45 1720.39L137.47 1729.04"/>
<path d="M238.52 1767.34L292.61 1766.91"/>
<path d="M238.52 1767.34L200.22 1783.79"/>
<path d="M238.52 1767.34L233.11 1822.09"/>
<path d="M292.61 1766.91L200.22 1783.79"/>
<path d="M200.22 1783.79L233.11 1822.09"/>
</g>
<g stroke="#222" stroke-width="0.9">
<circle cx="197.84" cy="1603.54" r="7.25" fill="#CCCCCC"/>
<circle cx="272.7" cy="1624.53" r="7.25" fill="#87CEEB"/>
<circle cx="153.69" cy="1646.38" r="7.25" fill="#CCCCCC"/>
<circle cx="195.67" cy="1664.13" r="7.25" fill="#CCCCCC"/>
<circle cx="251.07" cy="1664.13" r="7.25" fill="#87CEEB"/>
<circle cx="316.85" cy="1667.81" r="7.25" fill="#CCCCCC"/>
<circle cx="278.11" cy="1683.6" r="7.25" fill="#CCCCCC"/>
<circle cx="168.19" cy="1703.72" r="7.25" fill="#87CEEB"/>
<circle cx="206.71" cy="1718.22" r="7.25" fill="#87CEEB"/>
<circle cx="242.84" cy="1723.63" r="7.25" fill="#FA8072"/>
<circle cx="84.45" cy="1720.39" r="7.25" fill="#CCCCCC"/>
<circle cx="137.47" cy="1729.04" r="7.25" fill="#CCCCCC"/>
<circle cx="238.52" cy="1767.34" r="7.25" fill="#FA8072"/>
<circle cx="292.61" cy="1766.91" r="7.25" fill="#CCCCCC"/>
<circle cx="200.22" cy="1783.79" r="7.25" fill="#87CEEB"/>
<circle cx="233.11" cy="1822.09" r="7.25" fill="#CCCCCC"/>
</g>
<g font-size="9.8" text-anchor="middle" fill="#111">
<text transform="translate(197.84,1606.99) scale(0.93,1)">M</text>
<text transform="translate(272.7,1627.98) scale(0.93,1)">N</text>
<text transform="translate(153.69,1649.83) scale(0.93,1)">O</text>
<text transform="translate(195.67,1667.58) scale(0.93,1)">P</text>
<text transform="translate(251.07,1667.58) scale(0.93,1)">E</text>
<text transform="translate(316.85,1671.26) scale(0.93,1)">I</text>
<text transform="translate(278.11,1687.05) scale(0.93,1)">D</text>
<text transform="translate(168.19,1707.17) scale(0.93,1)">H</text>
<text transform="translate(206.71,1721.67) scale(0.93,1)">K</text>
<text transform="translate(242.84,1727.08) scale(0.93,1)">F</text>
<text transform="translate(84.45,1723.84) scale(0.93,1)">B</text>
<text transform="translate(137.47,1732.49) scale(0.93,1)">J</text>
<text transform="translate(238.52,1770.79) scale(0.93,1)">G</text>
<text transform="translate(292.61,1770.36) scale(0.93,1)">A</text>
<text transform="translate(200.22,1787.24) scale(0.93,1)">C</text>
<text transform="translate(233.11,1825.54) scale(0.93,1)">L</text>
</g>
<g stroke="#6b6b6b" stroke-width="2.1" stroke-linecap="round">
<path d="M483.23 417.64L548.58 562.61"/>
<path d="M483.23 417.64L486.47 474.54"/>
<path d="M483.23 417.64L492.1 353.37"/>
<path d="M483.23 417.64L539.49 506.35"/>
<path d="M483.23 417.64L396.67 359.86"/>
<path d="M548.58 562.61L486.47 474.54"/>
<path d="M548.58 562.61L628.85 422.61"/>
<path d="M548.58 562.61L620.63 493.37"/>
<path d="M548.58 562.61L396.67 359.86"/>
<path d="M486.47 474.54L628.85 422.61"/>
<path d="M486.47 474.54L396.67 359.86"/>
<path d="M486.47 474.54L406.41 570.62"/>
<path d="M628.85 422.61L546.41 358.13"/>
<path d="M628.85 422.61L618.03 351.64"/>
<path d="M628.85 422.61L403.6 506.35"/>
<path d="M628.85 422.61L539.49 506.35"/>
<path d="M628.85 422.61L475.65 560.45"/>
<path d="M396.67 359.86L546.41 358.13"/>
<path d="M396.67 359.86L406.41 570.62"/>
<path d="M396.67 359.86L475.65 560.45"/>
<path d="M396.67 359.86L620.63 493.37"/>
<path d="M396.67 359.86L539.49 506.35"/>
<path d="M396.67 359.86L402.08 414.39"/>
<path d="M546.41 358.13L492.1 353.37"/>
<path d="M546.41 358.13L618.03 351.64"/>
<path d="M546.41 358.13L620.63 493.37"/>
<path d="M546.41 358.13L402.08 414.39"/>
<path d="M406.41 570.62L475.65 560.45"/>
<path d="M406.41 570.62L623.23 560.02"/>
<path d="M539.49 506.35L620.63 493.37"/>
<path d="M539.49 506.35L475.65 560.45"/>
<path d="M539.49 506.35L403.6 506.35"/>
<path d="M492.1 353.37L620.63 493.37"/>
<path d="M492.1 353.37L618.03 351.64"/>
<path d="M492.1 353.37L562.64 426.29"/>
<path d="M492.1 353.37L402.08 414.39"/>
<path d="M620.63 493.37L475.65 560.45"/>
<path d="M620.63 493.37L618.03 351.64"/>
<path d="M620.63 493.37L562.64 426.29"/>
<path d="M475.65 560.45L402.08 414.39"/>
<path d="M475.65 560.45L623.23 560.02"/>
<path d="M618.03 351.64L562.64 426.29"/>
<path d="M403.6 506.35L402.08 414.39"/>
<path d="M403.6 506.35L562.64 426.29"/>
<path d="M402.08 414.39L562.64 426.29"/>
<path d="M562.64 426.29L623.23 560.02"/>
<path d="M546.41 358.13L483.23 417.64"/>
<path d="M546.41 358.13L486.47 474.54"/>
<path d="M628.85 422.61L492.1 353.37"/>
<path d="M539.49 506.35L562.64 426.29"/>
<path d="M483.23 417.64L562.64 426.29"/>
<path d="M483.23 417.64L403.6 506.35"/>
<path d="M406.41 570.62L548.58 562.61"/>
<path d="M475.65 560.45L548.58 562.61"/>
<path d="M548.58 562.61L623.23 560.02"/>
<path d="M406.41 570.62L403.6 506.35"/>
<path d="M396.67 359.86L403.6 506.35"/>
<path d="M486.47 474.54L403.6 506.35"/>
</g>
<g stroke="#222" stroke-width="0.9">
<circle cx="396.67" cy="359.86" r="7.25" fill="#CCCCCC"/>
<circle cx="492.1" cy="353.37" r="7.25" fill="#CCCCCC"/>
<circle cx="546.41" cy="358.13" r="7.25" fill="#FA8072"/>
<circle cx="618.03" cy="351.64" r="7.25" fill="#CCCCCC"/>
<circle cx="402.08" cy="414.39" r="7.25" fill="#CCCCCC"/>
<circle cx="483.23" cy="417.64" r="7.25" fill="#CCCCCC"/>
<circle cx="562.64" cy="426.29" r="7.25" fill="#CCCCCC"/>
<circle cx="628.85" cy="422.61" r="7.25" fill="#87CEEB"/>
<circle cx="486.47" cy="474.54" r="7.25" fill="#CCCCCC"/>
<circle cx="403.6" cy="506.35" r="7.25" fill="#CCCCCC"/>
<circle cx="539.49" cy="506.35" r="7.25" fill="#87CEEB"/>
<circle cx="620.63" cy="493.37" r="7.25" fill="#CCCCCC"/>
<circle cx="406.41" cy="570.62" r="7.25" fill="#FA8072"/>
<circle cx="475.65" cy="560.45" r="7.25" fill="#87CEEB"/>
<circle cx="548.58" cy="562.61" r="7.25" fill="#87CEEB"/>
<circle cx="623.23" cy="560.02" r="7.25" fill="#CCCCCC"/>
</g>
<g font-size="9.8" text-anchor="middle" fill="#111">
<text transform="translate(396.67,363.31) scale(0.93,1)">D</text>
<text transform="translate(492.1,356.82) scale(0.93,1)">H</text>
<text transform="translate(546.41,361.58) scale(0.93,1)">L</text>
<text transform="translate(618.03,355.09) scale(0.93,1)">P</text>
<text transform="translate(402.08,417.84) scale(0.93,1)">C</text>
<text transform="translate(483.23,421.09) scale(0.93,1)">G</text>
<text transform="translate(562.64,429.74) scale(0.93,1)">K</text>
<text transform="translate(628.85,426.06) scale(0.93,1)">O</text>
<text transform="translate(486.47,477.99) scale(0.93,1)">F</text>
<text transform="translate(403.6,509.8) scale(0.93,1)">B</text>
<text transform="translate(539.49,509.8) scale(0.93,1)">J</text>
<text transform="translate(620.63,496.82) scale(0.93,1)">N</text>
<text transform="translate(406.41,574.07) scale(0.93,1)">A</text>
<text transform="translate(475.65,563.9) scale(0.93,1)">E</text>
<text transform="translate(548.58,566.06) scale(0.93,1)">I</text>
<text transform="translate(623.23,563.47) scale(0.93,1)">M</text>
</g>
<g stroke="#6b6b6b" stroke-width="2.1" stroke-linecap="round">
<path d="M468.04 652.72L514.13 655.97"/>
<path d="M468.04 652.72L543.35 684.1"/>
<path d="M468.04 652.72L403.78 774.33"/>
<path d="M468.04 652.72L517.16 768.92"/>
<path d="M468.04 652.72L553.52 735.38"/>
<path d="M514.13 655.97L543.35 684.1"/>
<path d="M514.13 655.97L469.78 720.88"/>
<path d="M514.13 655.97L462.64 785.8"/>
<path d="M514.13 655.97L553.52 735.38"/>
<path d="M543.35 684.1L469.78 720.88"/>
<path d="M543.35 684.1L553.52 735.38"/>
<path d="M543.35 684.1L628.82 753.77"/>
<path d="M543.35 684.1L517.16 768.92"/>
<path d="M469.78 720.88L436.24 745.77"/>
<path d="M469.78 720.88L396.64 821.5"/>
<path d="M469.78 720.88L462.64 785.8"/>
<path d="M469.78 720.88L501.15 821.5"/>
<path d="M469.78 720.88L517.16 768.92"/>
<path d="M469.78 720.88L570.83 785.8"/>
<path d="M553.52 735.38L436.24 745.77"/>
<path d="M553.52 735.38L628.82 753.77"/>
<path d="M553.52 735.38L570.83 785.8"/>
<path d="M553.52 735.38L462.64 785.8"/>
<path d="M553.52 735.38L517.16 768.92"/>
<path d="M553.52 735.38L510.89 861.53"/>
<path d="M436.24 745.77L403.78 774.33"/>
<path d="M436.24 745.77L396.64 821.5"/>
<path d="M436.24 745.77L462.64 785.8"/>
<path d="M436.24 745.77L510.89 861.53"/>
<path d="M628.82 753.77L570.83 785.8"/>
<path d="M628.82 753.77L598.52 868.02"/>
<path d="M517.16 768.92L462.64 785.8"/>
<path d="M517.16 768.92L570.83 785.8"/>
<path d="M517.16 768.92L501.15 821.5"/>
<path d="M403.78 774.33L462.64 785.8"/>
<path d="M403.78 774.33L396.64 821.5"/>
<path d="M403.78 774.33L468.04 870.83"/>
<path d="M403.78 774.33L510.89 861.53"/>
<path d="M462.64 785.8L570.83 785.8"/>
<path d="M462.64 785.8L396.64 821.5"/>
<path d="M462.64 785.8L468.04 870.83"/>
<path d="M462.64 785.8L501.15 821.5"/>
<path d="M462.64 785.8L510.89 861.53"/>
<path d="M570.83 785.8L510.89 861.53"/>
<path d="M570.83 785.8L598.52 868.02"/>
<path d="M396.64 821.5L468.04 870.83"/>
<path d="M501.15 821.5L510.89 861.53"/>
<path d="M501.15 821.5L468.04 870.83"/>
<path d="M510.89 861.53L468.04 870.83"/>
<path d="M468.04 870.83L598.52 868.02"/>
<path d="M469.78 720.88L403.78 774.33"/>
<path d="M543.35 684.1L403.78 774.33"/>
<path d="M517.16 768.92L468.04 870.83"/>
</g>
<g stroke="#222" stroke-width="0.9">
<circle cx="468.04" cy="652.72" r="7.25" fill="#CCCCCC"/>
<circle cx="514.13" cy="655.97" r="7.25" fill="#87CEEB"/>
<circle cx="543.35" cy="684.1" r="7.25" fill="#CCCCCC"/>
<circle cx="469.78" cy="720.88" r="7.25" fill="#87CEEB"/>
<circle cx="553.52" cy="735.38" r="7.25" fill="#CCCCCC"/>
<circle cx="436.24" cy="745.77" r="7.25" fill="#FA8072"/>
<circle cx="628.82" cy="753.77" r="7.25" fill="#FA8072"/>
<circle cx="517.16" cy="768.92" r="7.25" fill="#87CEEB"/>
<circle cx="403.78" cy="774.33" r="7.25" fill="#CCCCCC"/>
<circle cx="462.64" cy="785.8" r="7.25" fill="#CCCCCC"/>
<circle cx="570.83" cy="785.8" r="7.25" fill="#87CEEB"/>
<circle cx="396.64" cy="821.5" r="7.25" fill="#CCCCCC"/>
<circle cx="501.15" cy="821.5" r="7.25" fill="#CCCCCC"/>
<circle cx="510.89" cy="861.53" r="7.25" fill="#CCCCCC"/>
<circle cx="468.04" cy="870.83" r="7.25" fill="#CCCCCC"/>
<circle cx="598.52" cy="868.02" r="7.25" fill="#CCCCCC"/>
</g>
<g font-size="9.8" text-anchor="middle" fill="#111">
<text transform="translate(468.04,656.17) scale(0.93,1)">G</text>
<text transform="translate(514.13,659.42) scale(0.93,1)">I</text>
<text transform="translate(543.35,687.55) scale(0.93,1)">F</text>
<text transform="translate(469.78,724.33) scale(0.93,1)">O</text>
<text transform="translate(553.52,738.83) scale(0.93,1)">D</text>
<text transform="translate(436.24,749.22) scale(0.93,1)">L</text>
<text transform="translate(628.82,757.22) scale(0.93,1)">A</text>
<text transform="translate(517.16,772.37) scale(0.93,1)">J</text>
<text transform="translate(403.78,777.78) scale(0.93,1)">H</text>
<text transform="translate(462.64,789.25) scale(0.93,1)">N</text>
<text transform="translate(570.83,789.25) scale(0.93,1)">E</text>
<text transform="translate(396.64,824.95) scale(0.93,1)">P</text>
<text transform="translate(501.15,824.95) scale(0.93,1)">B</text>
<text transform="translate(510.89,864.98) scale(0.93,1)">C</text>
<text transform="translate(468.04,874.28) scale(0.93,1)">K</text>
<text transform="translate(598.52,871.47) scale(0.93,1)">M</text>
</g>
<g stroke="#6b6b6b" stroke-width="2.1" stroke-linecap="round">
<path d="M407.49 1311.76L538.41 1303.11"/>
<path d="M407.49 1311.76L408.14 1455.44"/>
<path d="M407.49 1311.76L471.33 1323.45"/>
<path d="M407.49 1311.76L549.22 1371.7"/>
<path d="M407.49 1311.76L476.3 1459.34"/>
<path d="M407.49 1311.76L619.55 1474.48"/>
<path d="M549.22 1371.7L408.14 1455.44"/>
<path d="M549.22 1371.7L619.55 1474.48"/>
<path d="M549.22 1371.7L476.3 1459.34"/>
<path d="M549.22 1371.7L600.07 1310.46"/>
<path d="M549.22 1371.7L606.57 1370.62"/>
<path d="M471.33 1323.45L408.14 1455.44"/>
<path d="M471.33 1323.45L417.23 1512.78"/>
<path d="M471.33 1323.45L600.07 1310.46"/>
<path d="M471.33 1323.45L476.3 1459.34"/>
<path d="M471.33 1323.45L465.48 1378.84"/>
<path d="M619.55 1474.48L465.48 1378.84"/>
<path d="M619.55 1474.48L476.3 1459.34"/>
<path d="M619.55 1474.48L600.07 1310.46"/>
<path d="M619.55 1474.48L606.57 1370.62"/>
<path d="M619.55 1474.48L417.23 1512.78"/>
<path d="M538.41 1303.11L408.14 1455.44"/>
<path d="M538.41 1303.11L417.23 1512.78"/>
<path d="M538.41 1303.11L606.57 1370.62"/>
<path d="M408.14 1455.44L633.61 1522.09"/>
<path d="M408.14 1455.44L600.07 1310.46"/>
<path d="M408.14 1455.44L476.3 1459.34"/>
<path d="M408.14 1455.44L417.23 1512.78"/>
<path d="M408.14 1455.44L401.65 1379.92"/>
<path d="M476.3 1459.34L600.07 1310.46"/>
<path d="M476.3 1459.34L606.57 1370.62"/>
<path d="M476.3 1459.34L464.84 1515.6"/>
<path d="M476.3 1459.34L556.37 1455.01"/>
<path d="M476.3 1459.34L548.79 1513.43"/>
<path d="M476.3 1459.34L401.65 1379.92"/>
<path d="M600.07 1310.46L417.23 1512.78"/>
<path d="M600.07 1310.46L606.57 1370.62"/>
<path d="M600.07 1310.46L464.84 1515.6"/>
<path d="M600.07 1310.46L556.37 1455.01"/>
<path d="M600.07 1310.46L401.65 1379.92"/>
<path d="M600.07 1310.46L548.79 1513.43"/>
<path d="M465.48 1378.84L464.84 1515.6"/>
<path d="M465.48 1378.84L556.37 1455.01"/>
<path d="M465.48 1378.84L548.79 1513.43"/>
<path d="M465.48 1378.84L606.57 1370.62"/>
<path d="M464.84 1515.6L606.57 1370.62"/>
<path d="M464.84 1515.6L401.65 1379.92"/>
<path d="M606.57 1370.62L417.23 1512.78"/>
<path d="M606.57 1370.62L401.65 1379.92"/>
<path d="M606.57 1370.62L548.79 1513.43"/>
<path d="M606.57 1370.62L556.37 1455.01"/>
<path d="M417.23 1512.78L633.61 1522.09"/>
<path d="M417.23 1512.78L401.65 1379.92"/>
<path d="M417.23 1512.78L548.79 1513.43"/>
<path d="M417.23 1512.78L556.37 1455.01"/>
<path d="M407.49 1311.76L401.65 1379.92"/>
<path d="M407.49 1311.76L600.07 1310.46"/>
<path d="M538.41 1303.11L600.07 1310.46"/>
<path d="M606.57 1370.62L633.61 1522.09"/>
<path d="M619.55 1474.48L633.61 1522.09"/>
<path d="M464.84 1515.6L548.79 1513.43"/>
<path d="M417.23 1512.78L464.84 1515.6"/>
<path d="M549.22 1371.7L465.48 1378.84"/>
<path d="M465.48 1378.84L401.65 1379.92"/>
</g>
<g stroke="#222" stroke-width="0.9">
<circle cx="407.49" cy="1311.76" r="7.25" fill="#FA8072"/>
<circle cx="538.41" cy="1303.11" r="7.25" fill="#87CEEB"/>
<circle cx="600.07" cy="1310.46" r="7.25" fill="#FF0000"/>
<circle cx="471.33" cy="1323.45" r="7.25" fill="#87CEEB"/>
<circle cx="401.65" cy="1379.92" r="7.25" fill="#87CEEB"/>
<circle cx="465.48" cy="1378.84" r="7.25" fill="#FA8072"/>
<circle cx="549.22" cy="1371.7" r="7.25" fill="#87CEEB"/>
<circle cx="606.57" cy="1370.62" r="7.25" fill="#CCCCCC"/>
<circle cx="408.14" cy="1455.44" r="7.25" fill="#87CEEB"/>
<circle cx="476.3" cy="1459.34" r="7.25" fill="#FF0000"/>
<circle cx="556.37" cy="1455.01" r="7.25" fill="#87CEEB"/>
<circle cx="619.55" cy="1474.48" r="7.25" fill="#87CEEB"/>
<circle cx="417.23" cy="1512.78" r="7.25" fill="#CCCCCC"/>
<circle cx="464.84" cy="1515.6" r="7.25" fill="#87CEEB"/>
<circle cx="548.79" cy="1513.43" r="7.25" fill="#87CEEB"/>
<circle cx="633.61" cy="1522.09" r="7.25" fill="#87CEEB"/>
</g>
<g font-size="9.8" text-anchor="middle" fill="#111">
<text transform="translate(407.49,1315.21) scale(0.93,1)">D</text>
<text transform="translate(538.41,1306.56) scale(0.93,1)">L</text>
<text transform="translate(600.07,1313.91) scale(0.93,1)">P</text>
<text transform="translate(471.33,1326.9) scale(0.93,1)">H</text>
<text transform="translate(401.65,1383.37) scale(0.93,1)">C</text>
<text transform="translate(465.48,1382.29) scale(0.93,1)">G</text>
<text transform="translate(549.22,1375.15) scale(0.93,1)">K</text>
<text transform="translate(606.57,1374.07) scale(0.93,1)">O</text>
<text transform="translate(408.14,1458.89) scale(0.93,1)">B</text>
<text transform="translate(476.3,1462.79) scale(0.93,1)">F</text>
<text transform="translate(556.37,1458.46) scale(0.93,1)">J</text>
<text transform="translate(619.55,1477.93) scale(0.93,1)">N</text>
<text transform="translate(417.23,1516.23) scale(0.93,1)">A</text>
<text transform="translate(464.84,1519.05) scale(0.93,1)">E</text>
<text transform="translate(548.79,1516.88) scale(0.93,1)">I</text>
<text transform="translate(633.61,1525.54) scale(0.93,1)">M</text>
</g>
<g stroke="#6b6b6b" stroke-width="2.1" stroke-linecap="round">
<path d="M497.74 1603.54L415.95 1671.7"/>
<path d="M497.74 1603.54L462.47 1690.53"/>
<path d="M497.74 1603.54L504.67 1652.87"/>
<path d="M497.74 1603.54L560.49 1626.69"/>
<path d="M497.74 1603.54L552.7 1704.81"/>
<path d="M497.74 1603.54L596.2 1662.61"/>
<path d="M560.49 1626.69L462.47 1690.53"/>
<path d="M560.49 1626.69L596.2 1662.61"/>
<path d="M560.49 1626.69L552.7 1704.81"/>
<path d="M560.49 1626.69L517 1714.33"/>
<path d="M560.49 1626.69L522.41 1751.76"/>
<path d="M504.67 1652.87L462.47 1690.53"/>
<path d="M504.67 1652.87L476.54 1756.09"/>
<path d="M504.67 1652.87L517 1714.33"/>
<path d="M504.67 1652.87L552.7 1704.81"/>
<path d="M504.67 1652.87L633.85 1727.53"/>
<path d="M596.2 1662.61L633.85 1727.53"/>
<path d="M596.2 1662.61L552.7 1704.81"/>
<path d="M596.2 1662.61L517 1714.33"/>
<path d="M596.2 1662.61L522.41 1751.76"/>
<path d="M596.2 1662.61L476.54 1756.09"/>
<path d="M415.95 1671.7L462.47 1690.53"/>
<path d="M415.95 1671.7L476.54 1756.09"/>
<path d="M415.95 1671.7L522.41 1751.76"/>
<path d="M462.47 1690.53L401.45 1771.24"/>
<path d="M462.47 1690.53L517 1714.33"/>
<path d="M462.47 1690.53L552.7 1704.81"/>
<path d="M462.47 1690.53L476.54 1756.09"/>
<path d="M462.47 1690.53L491.25 1804.13"/>
<path d="M552.7 1704.81L517 1714.33"/>
<path d="M552.7 1704.81L522.41 1751.76"/>
<path d="M552.7 1704.81L584.73 1747.43"/>
<path d="M552.7 1704.81L597.28 1796.12"/>
<path d="M552.7 1704.81L548.59 1822.09"/>
<path d="M552.7 1704.81L491.25 1804.13"/>
<path d="M517 1714.33L476.54 1756.09"/>
<path d="M517 1714.33L522.41 1751.76"/>
<path d="M517 1714.33L584.73 1747.43"/>
<path d="M517 1714.33L597.28 1796.12"/>
<path d="M517 1714.33L491.25 1804.13"/>
<path d="M517 1714.33L548.59 1822.09"/>
<path d="M633.85 1727.53L584.73 1747.43"/>
<path d="M633.85 1727.53L597.28 1796.12"/>
<path d="M633.85 1727.53L548.59 1822.09"/>
<path d="M633.85 1727.53L522.41 1751.76"/>
<path d="M584.73 1747.43L522.41 1751.76"/>
<path d="M584.73 1747.43L491.25 1804.13"/>
<path d="M522.41 1751.76L476.54 1756.09"/>
<path d="M522.41 1751.76L491.25 1804.13"/>
<path d="M522.41 1751.76L548.59 1822.09"/>
<path d="M522.41 1751.76L597.28 1796.12"/>
<path d="M476.54 1756.09L401.45 1771.24"/>
<path d="M476.54 1756.09L491.25 1804.13"/>
<path d="M476.54 1756.09L548.59 1822.09"/>
<path d="M476.54 1756.09L597.28 1796.12"/>
</g>
<g stroke="#222" stroke-width="0.9">
<circle cx="497.74" cy="1603.54" r="7.25" fill="#FA8072"/>
<circle cx="560.49" cy="1626.69" r="7.25" fill="#87CEEB"/>
<circle cx="504.67" cy="1652.87" r="7.25" fill="#87CEEB"/>
<circle cx="596.2" cy="1662.61" r="7.25" fill="#87CEEB"/>
<circle cx="415.95" cy="1671.7" r="7.25" fill="#87CEEB"/>
<circle cx="462.47" cy="1690.53" r="7.25" fill="#87CEEB"/>
<circle cx="552.7" cy="1704.81" r="7.25" fill="#FF0000"/>
<circle cx="517" cy="1714.33" r="7.25" fill="#FF0000"/>
<circle cx="633.85" cy="1727.53" r="7.25" fill="#FA8072"/>
<circle cx="584.73" cy="1747.43" r="7.25" fill="#87CEEB"/>
<circle cx="522.41" cy="1751.76" r="7.25" fill="#CCCCCC"/>
<circle cx="476.54" cy="1756.09" r="7.25" fill="#CCCCCC"/>
<circle cx="401.45" cy="1771.24" r="7.25" fill="#87CEEB"/>
<circle cx="597.28" cy="1796.12" r="7.25" fill="#87CEEB"/>
<circle cx="491.25" cy="1804.13" r="7.25" fill="#87CEEB"/>
<circle cx="548.59" cy="1822.09" r="7.25" fill="#87CEEB"/>
</g>
<g font-size="9.8" text-anchor="middle" fill="#111">
<text transform="translate(497.74,1606.99) scale(0.93,1)">D</text>
<text transform="translate(560.49,1630.14) scale(0.93,1)">K</text>
<text transform="translate(504.67,1656.32) scale(0.93,1)">H</text>
<text transform="translate(596.2,1666.06) scale(0.93,1)">N</text>
<text transform="translate(415.95,1675.15) scale(0.93,1)">L</text>
<text transform="translate(462.47,1693.98) scale(0.93,1)">B</text>
<text transform="translate(552.7,1708.26) scale(0.93,1)">F</text>
<text transform="translate(517,1717.78) scale(0.93,1)">P</text>
<text transform="translate(633.85,1730.98) scale(0.93,1)">G</text>
<text transform="translate(584.73,1750.88) scale(0.93,1)">E</text>
<text transform="translate(522.41,1755.21) scale(0.93,1)">O</text>
<text transform="translate(476.54,1759.54) scale(0.93,1)">A</text>
<text transform="translate(401.45,1774.69) scale(0.93,1)">M</text>
<text transform="translate(597.28,1799.57) scale(0.93,1)">J</text>
<text transform="translate(491.25,1807.58) scale(0.93,1)">C</text>
<text transform="translate(548.59,1825.54) scale(0.93,1)">I</text>
</g>
<g stroke="#6b6b6b" stroke-width="2.1" stroke-linecap="round">
<path d="M809.3 353.37L719.28 414.39"/>
<path d="M809.3 353.37L863.61 358.13"/>
<path d="M809.3 353.37L865.78 562.61"/>
<path d="M809.3 353.37L792.85 560.45"/>
<path d="M809.3 353.37L803.67 474.54"/>
<path d="M719.28 414.39L713.87 359.86"/>
<path d="M719.28 414.39L863.61 358.13"/>
<path d="M719.28 414.39L792.85 560.45"/>
<path d="M719.28 414.39L720.8 506.35"/>
<path d="M719.28 414.39L879.84 426.29"/>
<path d="M713.87 359.86L723.61 570.62"/>
<path d="M713.87 359.86L792.85 560.45"/>
<path d="M713.87 359.86L803.67 474.54"/>
<path d="M713.87 359.86L800.43 417.64"/>
<path d="M863.61 358.13L800.43 417.64"/>
<path d="M863.61 358.13L865.78 562.61"/>
<path d="M935.23 351.64L803.67 474.54"/>
<path d="M935.23 351.64L792.85 560.45"/>
<path d="M935.23 351.64L800.43 417.64"/>
<path d="M723.61 570.62L792.85 560.45"/>
<path d="M723.61 570.62L720.8 506.35"/>
<path d="M803.67 474.54L792.85 560.45"/>
<path d="M803.67 474.54L720.8 506.35"/>
<path d="M803.67 474.54L856.69 506.35"/>
<path d="M803.67 474.54L879.84 426.29"/>
<path d="M803.67 474.54L800.43 417.64"/>
<path d="M792.85 560.45L720.8 506.35"/>
<path d="M792.85 560.45L800.43 417.64"/>
<path d="M792.85 560.45L940.43 560.02"/>
<path d="M792.85 560.45L856.69 506.35"/>
<path d="M792.85 560.45L937.83 493.37"/>
<path d="M800.43 417.64L720.8 506.35"/>
<path d="M800.43 417.64L865.78 562.61"/>
<path d="M800.43 417.64L856.69 506.35"/>
<path d="M800.43 417.64L946.05 422.61"/>
<path d="M720.8 506.35L940.43 560.02"/>
<path d="M720.8 506.35L879.84 426.29"/>
<path d="M865.78 562.61L937.83 493.37"/>
<path d="M879.84 426.29L937.83 493.37"/>
<path d="M879.84 426.29L946.05 422.61"/>
<path d="M856.69 506.35L940.43 560.02"/>
<path d="M856.69 506.35L937.83 493.37"/>
<path d="M856.69 506.35L946.05 422.61"/>
<path d="M940.43 560.02L937.83 493.37"/>
<path d="M713.87 359.86L720.8 506.35"/>
<path d="M809.3 353.37L800.43 417.64"/>
<path d="M792.85 560.45L865.78 562.61"/>
<path d="M865.78 562.61L940.43 560.02"/>
<path d="M935.23 351.64L879.84 426.29"/>
<path d="M719.28 414.39L800.43 417.64"/>
</g>
<g stroke="#222" stroke-width="0.9">
<circle cx="713.87" cy="359.86" r="7.25" fill="#CCCCCC"/>
<circle cx="809.3" cy="353.37" r="7.25" fill="#CCCCCC"/>
<circle cx="863.61" cy="358.13" r="7.25" fill="#FF0000"/>
<circle cx="935.23" cy="351.64" r="7.25" fill="#CCCCCC"/>
<circle cx="719.28" cy="414.39" r="7.25" fill="#CCCCCC"/>
<circle cx="800.43" cy="417.64" r="7.25" fill="#87CEEB"/>
<circle cx="879.84" cy="426.29" r="7.25" fill="#CCCCCC"/>
<circle cx="946.05" cy="422.61" r="7.25" fill="#87CEEB"/>
<circle cx="803.67" cy="474.54" r="7.25" fill="#87CEEB"/>
<circle cx="720.8" cy="506.35" r="7.25" fill="#87CEEB"/>
<circle cx="856.69" cy="506.35" r="7.25" fill="#CCCCCC"/>
<circle cx="937.83" cy="493.37" r="7.25" fill="#CCCCCC"/>
<circle cx="723.61" cy="570.62" r="7.25" fill="#FA8072"/>
<circle cx="792.85" cy="560.45" r="7.25" fill="#CCCCCC"/>
<circle cx="865.78" cy="562.61" r="7.25" fill="#87CEEB"/>
<circle cx="940.43" cy="560.02" r="7.25" fill="#CCCCCC"/>
</g>
<g font-size="9.8" text-anchor="middle" fill="#111">
<text transform="translate(713.87,363.31) scale(0.93,1)">D</text>
<text transform="translate(809.3,356.82) scale(0.93,1)">H</text>
<text transform="translate(863.61,361.58) scale(0.93,1)">L</text>
<text transform="translate(935.23,355.09) scale(0.93,1)">P</text>
<text transform="translate(719.28,417.84) scale(0.93,1)">C</text>
<text transform="translate(800.43,421.09) scale(0.93,1)">G</text>
<text transform="translate(879.84,429.74) scale(0.93,1)">K</text>
<text transform="translate(946.05,426.06) scale(0.93,1)">O</text>
<text transform="translate(803.67,477.99) scale(0.93,1)">F</text>
<text transform="translate(720.8,509.8) scale(0.93,1)">B</text>
<text transform="translate(856.69,509.8) scale(0.93,1)">J</text>
<text transform="translate(937.83,496.82) scale(0.93,1)">N</text>
<text transform="translate(723.61,574.07) scale(0.93,1)">A</text>
<text transform="translate(792.85,563.9) scale(0.93,1)">E</text>
<text transform="translate(865.78,566.06) scale(0.93,1)">I</text>
<text transform="translate(940.43,563.47) scale(0.93,1)">M</text>
</g>
<g stroke="#6b6b6b" stroke-width="2.1" stroke-linecap="round">
<path d="M879.44 652.29L829.89 670.68"/>
<path d="M879.44 652.29L944.36 688.86"/>
<path d="M879.44 652.29L946.52 769.13"/>
<path d="M879.44 652.29L800.03 744.68"/>
<path d="M879.44 652.29L835.3 735.6"/>
<path d="M829.89 670.68L778.82 678.04"/>
<path d="M829.89 670.68L944.36 688.86"/>
<path d="M829.89 670.68L800.03 744.68"/>
<path d="M829.89 670.68L770.17 767.4"/>
<path d="M829.89 670.68L866.02 818.9"/>
<path d="M778.82 678.04L713.91 713.74"/>
<path d="M778.82 678.04L800.03 744.68"/>
<path d="M778.82 678.04L835.3 735.6"/>
<path d="M778.82 678.04L875.76 764.16"/>
<path d="M944.36 688.86L875.76 764.16"/>
<path d="M944.36 688.86L946.52 769.13"/>
<path d="M894.15 707.25L835.3 735.6"/>
<path d="M894.15 707.25L800.03 744.68"/>
<path d="M894.15 707.25L875.76 764.16"/>
<path d="M713.91 713.74L800.03 744.68"/>
<path d="M713.91 713.74L770.17 767.4"/>
<path d="M835.3 735.6L800.03 744.68"/>
<path d="M835.3 735.6L770.17 767.4"/>
<path d="M835.3 735.6L813.44 837.73"/>
<path d="M835.3 735.6L866.02 818.9"/>
<path d="M835.3 735.6L875.76 764.16"/>
<path d="M800.03 744.68L770.17 767.4"/>
<path d="M800.03 744.68L875.76 764.16"/>
<path d="M800.03 744.68L756.32 842.49"/>
<path d="M800.03 744.68L813.44 837.73"/>
<path d="M800.03 744.68L840.06 864.34"/>
<path d="M875.76 764.16L770.17 767.4"/>
<path d="M875.76 764.16L946.52 769.13"/>
<path d="M875.76 764.16L813.44 837.73"/>
<path d="M875.76 764.16L907.79 870.83"/>
<path d="M770.17 767.4L756.32 842.49"/>
<path d="M770.17 767.4L866.02 818.9"/>
<path d="M946.52 769.13L840.06 864.34"/>
<path d="M866.02 818.9L840.06 864.34"/>
<path d="M866.02 818.9L907.79 870.83"/>
<path d="M813.44 837.73L756.32 842.49"/>
<path d="M813.44 837.73L840.06 864.34"/>
<path d="M813.44 837.73L907.79 870.83"/>
<path d="M756.32 842.49L840.06 864.34"/>
</g>
<g stroke="#222" stroke-width="0.9">
<circle cx="879.44" cy="652.29" r="7.25" fill="#CCCCCC"/>
<circle cx="829.89" cy="670.68" r="7.25" fill="#CCCCCC"/>
<circle cx="778.82" cy="678.04" r="7.25" fill="#CCCCCC"/>
<circle cx="944.36" cy="688.86" r="7.25" fill="#FF0000"/>
<circle cx="894.15" cy="707.25" r="7.25" fill="#CCCCCC"/>
<circle cx="713.91" cy="713.74" r="7.25" fill="#FA8072"/>
<circle cx="835.3" cy="735.6" r="7.25" fill="#87CEEB"/>
<circle cx="800.03" cy="744.68" r="7.25" fill="#CCCCCC"/>
<circle cx="875.76" cy="764.16" r="7.25" fill="#87CEEB"/>
<circle cx="770.17" cy="767.4" r="7.25" fill="#87CEEB"/>
<circle cx="946.52" cy="769.13" r="7.25" fill="#87CEEB"/>
<circle cx="866.02" cy="818.9" r="7.25" fill="#CCCCCC"/>
<circle cx="813.44" cy="837.73" r="7.25" fill="#CCCCCC"/>
<circle cx="756.32" cy="842.49" r="7.25" fill="#CCCCCC"/>
<circle cx="840.06" cy="864.34" r="7.25" fill="#CCCCCC"/>
<circle cx="907.79" cy="870.83" r="7.25" fill="#87CEEB"/>
</g>
<g font-size="9.8" text-anchor="middle" fill="#111">
<text transform="translate(879.44,655.74) scale(0.93,1)">H</text>
<text transform="translate(829.89,674.13) scale(0.93,1)">C</text>
<text transform="translate(778.82,681.49) scale(0.93,1)">D</text>
<text transform="translate(944.36,692.31) scale(0.93,1)">L</text>
<text transform="translate(894.15,710.7) scale(0.93,1)">P</text>
<text transform="translate(713.91,717.19) scale(0.93,1)">A</text>
<text transform="translate(835.3,739.05) scale(0.93,1)">F</text>
<text transform="translate(800.03,748.13) scale(0.93,1)">E</text>
<text transform="translate(875.76,767.61) scale(0.93,1)">G</text>
<text transform="translate(770.17,770.85) scale(0.93,1)">B</text>
<text transform="translate(946.52,772.58) scale(0.93,1)">I</text>
<text transform="translate(866.02,822.35) scale(0.93,1)">K</text>
<text transform="translate(813.44,841.18) scale(0.93,1)">J</text>
<text transform="translate(756.32,845.94) scale(0.93,1)">M</text>
<text transform="translate(840.06,867.79) scale(0.93,1)">N</text>
<text transform="translate(907.79,874.28) scale(0.93,1)">O</text>
</g>
<g stroke="#6b6b6b" stroke-width="2.1" stroke-linecap="round">
<path d="M724.69 1311.76L855.61 1303.11"/>
<path d="M724.69 1311.76L788.53 1323.45"/>
<path d="M724.69 1311.76L866.42 1371.7"/>
<path d="M724.69 1311.76L923.77 1370.62"/>
<path d="M724.69 1311.76L782.68 1378.84"/>
<path d="M724.69 1311.76L873.57 1455.01"/>
<path d="M724.69 1311.76L793.5 1459.34"/>
<path d="M724.69 1311.76L865.99 1513.43"/>
<path d="M724.69 1311.76L718.85 1379.92"/>
<path d="M724.69 1311.76L725.34 1455.44"/>
<path d="M724.69 1311.76L734.43 1512.78"/>
<path d="M855.61 1303.11L917.27 1310.46"/>
<path d="M855.61 1303.11L782.68 1378.84"/>
<path d="M788.53 1323.45L917.27 1310.46"/>
<path d="M788.53 1323.45L782.68 1378.84"/>
<path d="M917.27 1310.46L782.68 1378.84"/>
<path d="M917.27 1310.46L866.42 1371.7"/>
<path d="M917.27 1310.46L793.5 1459.34"/>
<path d="M917.27 1310.46L782.04 1515.6"/>
<path d="M917.27 1310.46L873.57 1455.01"/>
<path d="M917.27 1310.46L923.77 1370.62"/>
<path d="M718.85 1379.92L782.68 1378.84"/>
<path d="M718.85 1379.92L793.5 1459.34"/>
<path d="M782.68 1378.84L866.42 1371.7"/>
<path d="M782.68 1378.84L725.34 1455.44"/>
<path d="M782.68 1378.84L734.43 1512.78"/>
<path d="M782.68 1378.84L782.04 1515.6"/>
<path d="M782.68 1378.84L793.5 1459.34"/>
<path d="M782.68 1378.84L865.99 1513.43"/>
<path d="M782.68 1378.84L873.57 1455.01"/>
<path d="M866.42 1371.7L793.5 1459.34"/>
<path d="M923.77 1370.62L793.5 1459.34"/>
<path d="M725.34 1455.44L793.5 1459.34"/>
<path d="M793.5 1459.34L873.57 1455.01"/>
<path d="M793.5 1459.34L936.75 1474.48"/>
<path d="M793.5 1459.34L950.81 1522.09"/>
<path d="M793.5 1459.34L865.99 1513.43"/>
<path d="M793.5 1459.34L782.04 1515.6"/>
<path d="M793.5 1459.34L734.43 1512.78"/>
<path d="M873.57 1455.01L950.81 1522.09"/>
</g>
<g stroke="#222" stroke-width="0.9">
<circle cx="724.69" cy="1311.76" r="7.25" fill="#CCCCCC"/>
<circle cx="855.61" cy="1303.11" r="7.25" fill="#87CEEB"/>
<circle cx="917.27" cy="1310.46" r="7.25" fill="#FF0000"/>
<circle cx="788.53" cy="1323.45" r="7.25" fill="#87CEEB"/>
<circle cx="718.85" cy="1379.92" r="7.25" fill="#87CEEB"/>
<circle cx="782.68" cy="1378.84" r="7.25" fill="#FA8072"/>
<circle cx="866.42" cy="1371.7" r="7.25" fill="#87CEEB"/>
<circle cx="923.77" cy="1370.62" r="7.25" fill="#87CEEB"/>
<circle cx="725.34" cy="1455.44" r="7.25" fill="#87CEEB"/>
<circle cx="793.5" cy="1459.34" r="7.25" fill="#FF0000"/>
<circle cx="873.57" cy="1455.01" r="7.25" fill="#87CEEB"/>
<circle cx="936.75" cy="1474.48" r="7.25" fill="#87CEEB"/>
<circle cx="734.43" cy="1512.78" r="7.25" fill="#87CEEB"/>
<circle cx="782.04" cy="1515.6" r="7.25" fill="#87CEEB"/>
<circle cx="865.99" cy="1513.43" r="7.25" fill="#87CEEB"/>
<circle cx="950.81" cy="1522.09" r="7.25" fill="#87CEEB"/>
</g>
<g font-size="9.8" text-anchor="middle" fill="#111">
<text transform="translate(724.69,1315.21) scale(0.93,1)">D</text>
<text transform="translate(855.61,1306.56) scale(0.93,1)">L</text>
<text transform="translate(917.27,1313.91) scale(0.93,1)">P</text>
<text transform="translate(788.53,1326.9) scale(0.93,1)">H</text>
<text transform="translate(718.85,1383.37) scale(0.93,1)">C</text>
<text transform="translate(782.68,1382.29) scale(0.93,1)">G</text>
<text transform="translate(866.42,1375.15) scale(0.93,1)">K</text>
<text transform="translate(923.77,1374.07) scale(0.93,1)">O</text>
<text transform="translate(725.34,1458.89) scale(0.93,1)">B</text>
<text transform="translate(793.5,1462.79) scale(0.93,1)">F</text>
<text transform="translate(873.57,1458.46) scale(0.93,1)">J</text>
<text transform="translate(936.75,1477.93) scale(0.93,1)">N</text>
<text transform="translate(734.43,1516.23) scale(0.93,1)">A</text>
<text transform="translate(782.04,1519.05) scale(0.93,1)">E</text>
<text transform="translate(865.99,1516.88) scale(0.93,1)">I</text>
<text transform="translate(950.81,1525.54) scale(0.93,1)">M</text>
</g>
<g stroke="#6b6b6b" stroke-width="2.1" stroke-linecap="round">
<path d="M824.91 1603.54L858.02 1658.07"/>
<path d="M824.91 1603.54L814.74 1714.33"/>
<path d="M824.91 1603.54L858.88 1705.89"/>
<path d="M872.08 1603.54L858.02 1658.07"/>
<path d="M872.08 1603.54L814.74 1714.33"/>
<path d="M872.08 1603.54L858.88 1705.89"/>
<path d="M789.86 1631.24L858.02 1658.07"/>
<path d="M789.86 1631.24L814.74 1714.33"/>
<path d="M789.86 1631.24L858.88 1705.89"/>
<path d="M934.19 1647.47L858.02 1658.07"/>
<path d="M934.19 1647.47L858.88 1705.89"/>
<path d="M934.19 1647.47L919.47 1766.48"/>
<path d="M858.02 1658.07L774.49 1679.92"/>
<path d="M858.02 1658.07L814.74 1714.33"/>
<path d="M858.02 1658.07L858.88 1705.89"/>
<path d="M858.02 1658.07L899.56 1712.38"/>
<path d="M858.02 1658.07L950.85 1709.57"/>
<path d="M858.02 1658.07L830.75 1780.54"/>
<path d="M774.49 1679.92L814.74 1714.33"/>
<path d="M774.49 1679.92L858.88 1705.89"/>
<path d="M858.88 1705.89L814.74 1714.33"/>
<path d="M858.88 1705.89L899.56 1712.38"/>
<path d="M858.88 1705.89L950.85 1709.57"/>
<path d="M858.88 1705.89L919.47 1766.48"/>
<path d="M858.88 1705.89L889.39 1806.94"/>
<path d="M858.88 1705.89L847.63 1822.09"/>
<path d="M858.88 1705.89L776.87 1784.87"/>
<path d="M899.56 1712.38L814.74 1714.33"/>
<path d="M899.56 1712.38L919.47 1766.48"/>
<path d="M950.85 1709.57L919.47 1766.48"/>
<path d="M814.74 1714.33L718.88 1727.53"/>
<path d="M814.74 1714.33L776.87 1784.87"/>
<path d="M814.74 1714.33L830.75 1780.54"/>
<path d="M814.74 1714.33L889.39 1806.94"/>
<path d="M919.47 1766.48L830.75 1780.54"/>
<path d="M919.47 1766.48L889.39 1806.94"/>
<path d="M919.47 1766.48L847.63 1822.09"/>
<path d="M830.75 1780.54L847.63 1822.09"/>
</g>
<g stroke="#222" stroke-width="0.9">
<circle cx="824.91" cy="1603.54" r="7.25" fill="#87CEEB"/>
<circle cx="872.08" cy="1603.54" r="7.25" fill="#87CEEB"/>
<circle cx="789.86" cy="1631.24" r="7.25" fill="#87CEEB"/>
<circle cx="934.19" cy="1647.47" r="7.25" fill="#87CEEB"/>
<circle cx="858.02" cy="1658.07" r="7.25" fill="#CCCCCC"/>
<circle cx="774.49" cy="1679.92" r="7.25" fill="#87CEEB"/>
<circle cx="858.88" cy="1705.89" r="7.25" fill="#FA8072"/>
<circle cx="899.56" cy="1712.38" r="7.25" fill="#87CEEB"/>
<circle cx="950.85" cy="1709.57" r="7.25" fill="#87CEEB"/>
<circle cx="814.74" cy="1714.33" r="7.25" fill="#FF0000"/>
<circle cx="718.88" cy="1727.53" r="7.25" fill="#87CEEB"/>
<circle cx="919.47" cy="1766.48" r="7.25" fill="#FF0000"/>
<circle cx="776.87" cy="1784.87" r="7.25" fill="#87CEEB"/>
<circle cx="830.75" cy="1780.54" r="7.25" fill="#87CEEB"/>
<circle cx="889.39" cy="1806.94" r="7.25" fill="#87CEEB"/>
<circle cx="847.63" cy="1822.09" r="7.25" fill="#87CEEB"/>
</g>
<g font-size="9.8" text-anchor="middle" fill="#111">
<text transform="translate(824.91,1606.99) scale(0.93,1)">B</text>
<text transform="translate(872.08,1606.99) scale(0.93,1)">I</text>
<text transform="translate(789.86,1634.69) scale(0.93,1)">C</text>
<text transform="translate(934.19,1650.92) scale(0.93,1)">L</text>
<text transform="translate(858.02,1661.52) scale(0.93,1)">D</text>
<text transform="translate(774.49,1683.37) scale(0.93,1)">A</text>
<text transform="translate(858.88,1709.34) scale(0.93,1)">G</text>
<text transform="translate(899.56,1715.83) scale(0.93,1)">K</text>
<text transform="translate(950.85,1713.02) scale(0.93,1)">H</text>
<text transform="translate(814.74,1717.78) scale(0.93,1)">F</text>
<text transform="translate(718.88,1730.98) scale(0.93,1)">N</text>
<text transform="translate(919.47,1769.93) scale(0.93,1)">P</text>
<text transform="translate(776.87,1788.32) scale(0.93,1)">M</text>
<text transform="translate(830.75,1783.99) scale(0.93,1)">O</text>
<text transform="translate(889.39,1810.39) scale(0.93,1)">E</text>
<text transform="translate(847.63,1825.54) scale(0.93,1)">J</text>
</g>
<g stroke="#6b6b6b" stroke-width="2.1" stroke-linecap="round">
<path d="M1180.81 358.13L1036.48 414.39"/>
<path d="M1180.81 358.13L1263.25 422.61"/>
<path d="M1180.81 358.13L1173.89 506.35"/>
<path d="M1180.81 358.13L1197.04 426.29"/>
<path d="M1180.81 358.13L1120.87 474.54"/>
<path d="M1263.25 422.61L1252.43 351.64"/>
<path d="M1263.25 422.61L1120.87 474.54"/>
<path d="M1263.25 422.61L1173.89 506.35"/>
<path d="M1263.25 422.61L1182.98 562.61"/>
<path d="M1263.25 422.61L1117.63 417.64"/>
<path d="M1263.25 422.61L1038 506.35"/>
<path d="M1263.25 422.61L1257.63 560.02"/>
<path d="M1252.43 351.64L1120.87 474.54"/>
<path d="M1252.43 351.64L1182.98 562.61"/>
<path d="M1252.43 351.64L1255.03 493.37"/>
<path d="M1120.87 474.54L1173.89 506.35"/>
<path d="M1120.87 474.54L1182.98 562.61"/>
<path d="M1120.87 474.54L1110.05 560.45"/>
<path d="M1120.87 474.54L1031.07 359.86"/>
<path d="M1120.87 474.54L1040.81 570.62"/>
<path d="M1120.87 474.54L1038 506.35"/>
<path d="M1120.87 474.54L1126.5 353.37"/>
<path d="M1173.89 506.35L1182.98 562.61"/>
<path d="M1173.89 506.35L1110.05 560.45"/>
<path d="M1173.89 506.35L1197.04 426.29"/>
<path d="M1173.89 506.35L1031.07 359.86"/>
<path d="M1173.89 506.35L1126.5 353.37"/>
<path d="M1173.89 506.35L1038 506.35"/>
<path d="M1036.48 414.39L1117.63 417.64"/>
<path d="M1036.48 414.39L1110.05 560.45"/>
<path d="M1036.48 414.39L1038 506.35"/>
<path d="M1182.98 562.61L1040.81 570.62"/>
<path d="M1182.98 562.61L1038 506.35"/>
<path d="M1110.05 560.45L1038 506.35"/>
<path d="M1110.05 560.45L1197.04 426.29"/>
<path d="M1110.05 560.45L1126.5 353.37"/>
<path d="M1110.05 560.45L1257.63 560.02"/>
<path d="M1031.07 359.86L1197.04 426.29"/>
<path d="M1031.07 359.86L1038 506.35"/>
<path d="M1031.07 359.86L1040.81 570.62"/>
<path d="M1038 506.35L1117.63 417.64"/>
<path d="M1038 506.35L1197.04 426.29"/>
<path d="M1038 506.35L1126.5 353.37"/>
<path d="M1038 506.35L1257.63 560.02"/>
<path d="M1038 506.35L1255.03 493.37"/>
<path d="M1197.04 426.29L1126.5 353.37"/>
<path d="M1197.04 426.29L1040.81 570.62"/>
<path d="M1197.04 426.29L1255.03 493.37"/>
<path d="M1117.63 417.64L1126.5 353.37"/>
<path d="M1117.63 417.64L1257.63 560.02"/>
<path d="M1126.5 353.37L1257.63 560.02"/>
<path d="M1040.81 570.62L1255.03 493.37"/>
<path d="M1040.81 570.62L1257.63 560.02"/>
<path d="M1255.03 493.37L1257.63 560.02"/>
<path d="M1031.07 359.86L1036.48 414.39"/>
<path d="M1038 506.35L1040.81 570.62"/>
<path d="M1040.81 570.62L1110.05 560.45"/>
<path d="M1110.05 560.45L1182.98 562.61"/>
<path d="M1182.98 562.61L1257.63 560.02"/>
<path d="M1252.43 351.64L1197.04 426.29"/>
</g>
<g stroke="#222" stroke-width="0.9">
<circle cx="1031.07" cy="359.86" r="7.25" fill="#87CEEB"/>
<circle cx="1126.5" cy="353.37" r="7.25" fill="#CCCCCC"/>
<circle cx="1180.81" cy="358.13" r="7.25" fill="#FA8072"/>
<circle cx="1252.43" cy="351.64" r="7.25" fill="#87CEEB"/>
<circle cx="1036.48" cy="414.39" r="7.25" fill="#CCCCCC"/>
<circle cx="1117.63" cy="417.64" r="7.25" fill="#CCCCCC"/>
<circle cx="1197.04" cy="426.29" r="7.25" fill="#87CEEB"/>
<circle cx="1263.25" cy="422.61" r="7.25" fill="#FA8072"/>
<circle cx="1120.87" cy="474.54" r="7.25" fill="#CCCCCC"/>
<circle cx="1038" cy="506.35" r="7.25" fill="#87CEEB"/>
<circle cx="1173.89" cy="506.35" r="7.25" fill="#87CEEB"/>
<circle cx="1255.03" cy="493.37" r="7.25" fill="#CCCCCC"/>
<circle cx="1040.81" cy="570.62" r="7.25" fill="#CCCCCC"/>
<circle cx="1110.05" cy="560.45" r="7.25" fill="#FA8072"/>
<circle cx="1182.98" cy="562.61" r="7.25" fill="#CCCCCC"/>
<circle cx="1257.63" cy="560.02" r="7.25" fill="#FA8072"/>
</g>
<g font-size="9.8" text-anchor="middle" fill="#111">
<text transform="translate(1031.07,363.31) scale(0.93,1)">D</text>
<text transform="translate(1126.5,356.82) scale(0.93,1)">H</text>
<text transform="translate(1180.81,361.58) scale(0.93,1)">L</text>
<text transform="translate(1252.43,355.09) scale(0.93,1)">P</text>
<text transform="translate(1036.48,417.84) scale(0.93,1)">C</text>
<text transform="translate(1117.63,421.09) scale(0.93,1)">G</text>
<text transform="translate(1197.04,429.74) scale(0.93,1)">K</text>
<text transform="translate(1263.25,426.06) scale(0.93,1)">O</text>
<text transform="translate(1120.87,477.99) scale(0.93,1)">F</text>
<text transform="translate(1038,509.8) scale(0.93,1)">B</text>
<text transform="translate(1173.89,509.8) scale(0.93,1)">J</text>
<text transform="translate(1255.03,496.82) scale(0.93,1)">N</text>
<text transform="translate(1040.81,574.07) scale(0.93,1)">A</text>
<text transform="translate(1110.05,563.9) scale(0.93,1)">E</text>
<text transform="translate(1182.98,566.06) scale(0.93,1)">I</text>
<text transform="translate(1257.63,563.47) scale(0.93,1)">M</text>
</g>
<g stroke="#6b6b6b" stroke-width="2.1" stroke-linecap="round">
<path d="M1134.77 652.29L1031.12 720.88"/>
<path d="M1134.77 652.29L1122.87 687.77"/>
<path d="M1134.77 652.29L1163.55 718.72"/>
<path d="M1134.77 652.29L1185.19 794.88"/>
<path d="M1134.77 652.29L1200.77 715.9"/>
<path d="M1122.87 687.77L1257.03 689.51"/>
<path d="M1122.87 687.77L1200.77 715.9"/>
<path d="M1122.87 687.77L1163.55 718.72"/>
<path d="M1122.87 687.77L1263.52 737.11"/>
<path d="M1122.87 687.77L1044.11 796.62"/>
<path d="M1122.87 687.77L1128.93 795.97"/>
<path d="M1122.87 687.77L1127.2 870.83"/>
<path d="M1257.03 689.51L1200.77 715.9"/>
<path d="M1257.03 689.51L1263.52 737.11"/>
<path d="M1257.03 689.51L1205.31 857.2"/>
<path d="M1200.77 715.9L1163.55 718.72"/>
<path d="M1200.77 715.9L1263.52 737.11"/>
<path d="M1200.77 715.9L1095.39 761.56"/>
<path d="M1200.77 715.9L1244.69 784.71"/>
<path d="M1200.77 715.9L1256.16 830.8"/>
<path d="M1200.77 715.9L1128.93 795.97"/>
<path d="M1200.77 715.9L1098.64 818.69"/>
<path d="M1163.55 718.72L1263.52 737.11"/>
<path d="M1163.55 718.72L1095.39 761.56"/>
<path d="M1163.55 718.72L1185.19 794.88"/>
<path d="M1163.55 718.72L1244.69 784.71"/>
<path d="M1163.55 718.72L1098.64 818.69"/>
<path d="M1163.55 718.72L1128.93 795.97"/>
<path d="M1031.12 720.88L1044.11 796.62"/>
<path d="M1031.12 720.88L1095.39 761.56"/>
<path d="M1031.12 720.88L1128.93 795.97"/>
<path d="M1263.52 737.11L1256.16 830.8"/>
<path d="M1263.52 737.11L1128.93 795.97"/>
<path d="M1095.39 761.56L1128.93 795.97"/>
<path d="M1095.39 761.56L1185.19 794.88"/>
<path d="M1095.39 761.56L1098.64 818.69"/>
<path d="M1095.39 761.56L1127.2 870.83"/>
<path d="M1244.69 784.71L1185.19 794.88"/>
<path d="M1244.69 784.71L1128.93 795.97"/>
<path d="M1244.69 784.71L1256.16 830.8"/>
<path d="M1128.93 795.97L1044.11 796.62"/>
<path d="M1128.93 795.97L1185.19 794.88"/>
<path d="M1128.93 795.97L1098.64 818.69"/>
<path d="M1128.93 795.97L1127.2 870.83"/>
<path d="M1128.93 795.97L1205.31 857.2"/>
<path d="M1185.19 794.88L1098.64 818.69"/>
<path d="M1185.19 794.88L1256.16 830.8"/>
<path d="M1185.19 794.88L1205.31 857.2"/>
<path d="M1044.11 796.62L1098.64 818.69"/>
<path d="M1044.11 796.62L1127.2 870.83"/>
<path d="M1098.64 818.69L1127.2 870.83"/>
<path d="M1256.16 830.8L1205.31 857.2"/>
<path d="M1256.16 830.8L1127.2 870.83"/>
<path d="M1205.31 857.2L1127.2 870.83"/>
</g>
<g stroke="#222" stroke-width="0.9">
<circle cx="1134.77" cy="652.29" r="7.25" fill="#FA8072"/>
<circle cx="1122.87" cy="687.77" r="7.25" fill="#FA8072"/>
<circle cx="1257.03" cy="689.51" r="7.25" fill="#87CEEB"/>
<circle cx="1200.77" cy="715.9" r="7.25" fill="#CCCCCC"/>
<circle cx="1163.55" cy="718.72" r="7.25" fill="#87CEEB"/>
<circle cx="1031.12" cy="720.88" r="7.25" fill="#CCCCCC"/>
<circle cx="1263.52" cy="737.11" r="7.25" fill="#CCCCCC"/>
<circle cx="1095.39" cy="761.56" r="7.25" fill="#FA8072"/>
<circle cx="1244.69" cy="784.71" r="7.25" fill="#87CEEB"/>
<circle cx="1128.93" cy="795.97" r="7.25" fill="#87CEEB"/>
<circle cx="1185.19" cy="794.88" r="7.25" fill="#87CEEB"/>
<circle cx="1044.11" cy="796.62" r="7.25" fill="#CCCCCC"/>
<circle cx="1098.64" cy="818.69" r="7.25" fill="#CCCCCC"/>
<circle cx="1256.16" cy="830.8" r="7.25" fill="#CCCCCC"/>
<circle cx="1205.31" cy="857.2" r="7.25" fill="#CCCCCC"/>
<circle cx="1127.2" cy="870.83" r="7.25" fill="#FA8072"/>
</g>
<g font-size="9.8" text-anchor="middle" fill="#111">
<text transform="translate(1134.77,655.74) scale(0.93,1)">L</text>
<text transform="translate(1122.87,691.22) scale(0.93,1)">O</text>
<text transform="translate(1257.03,692.96) scale(0.93,1)">P</text>
<text transform="translate(1200.77,719.35) scale(0.93,1)">F</text>
<text transform="translate(1163.55,722.17) scale(0.93,1)">J</text>
<text transform="translate(1031.12,724.33) scale(0.93,1)">C</text>
<text transform="translate(1263.52,740.56) scale(0.93,1)">I</text>
<text transform="translate(1095.39,765.01) scale(0.93,1)">E</text>
<text transform="translate(1244.69,788.16) scale(0.93,1)">D</text>
<text transform="translate(1128.93,799.42) scale(0.93,1)">B</text>
<text transform="translate(1185.19,798.33) scale(0.93,1)">K</text>
<text transform="translate(1044.11,800.07) scale(0.93,1)">G</text>
<text transform="translate(1098.64,822.14) scale(0.93,1)">H</text>
<text transform="translate(1256.16,834.25) scale(0.93,1)">A</text>
<text transform="translate(1205.31,860.65) scale(0.93,1)">N</text>
<text transform="translate(1127.2,874.28) scale(0.93,1)">M</text>
</g>
<g stroke="#6b6b6b" stroke-width="2.1" stroke-linecap="round">
<path d="M1234.47 1310.46L1172.81 1303.11"/>
<path d="M1234.47 1310.46L1105.73 1323.45"/>
<path d="M1234.47 1310.46L1099.88 1378.84"/>
<path d="M1234.47 1310.46L1183.62 1371.7"/>
<path d="M1234.47 1310.46L1240.97 1370.62"/>
<path d="M1234.47 1310.46L1190.77 1455.01"/>
<path d="M1234.47 1310.46L1183.19 1513.43"/>
<path d="M1240.97 1370.62L1253.95 1474.48"/>
<path d="M1110.7 1459.34L1041.89 1311.76"/>
<path d="M1110.7 1459.34L1036.05 1379.92"/>
<path d="M1110.7 1459.34L1042.54 1455.44"/>
<path d="M1110.7 1459.34L1051.63 1512.78"/>
<path d="M1110.7 1459.34L1099.24 1515.6"/>
<path d="M1110.7 1459.34L1183.19 1513.43"/>
<path d="M1110.7 1459.34L1268.01 1522.09"/>
<path d="M1110.7 1459.34L1253.95 1474.48"/>
<path d="M1110.7 1459.34L1190.77 1455.01"/>
<path d="M1110.7 1459.34L1240.97 1370.62"/>
<path d="M1110.7 1459.34L1183.62 1371.7"/>
<path d="M1110.7 1459.34L1099.88 1378.84"/>
<path d="M1110.7 1459.34L1105.73 1323.45"/>
</g>
<g stroke="#222" stroke-width="0.9">
<circle cx="1041.89" cy="1311.76" r="7.25" fill="#87CEEB"/>
<circle cx="1172.81" cy="1303.11" r="7.25" fill="#87CEEB"/>
<circle cx="1234.47" cy="1310.46" r="7.25" fill="#FF0000"/>
<circle cx="1105.73" cy="1323.45" r="7.25" fill="#87CEEB"/>
<circle cx="1036.05" cy="1379.92" r="7.25" fill="#87CEEB"/>
<circle cx="1099.88" cy="1378.84" r="7.25" fill="#87CEEB"/>
<circle cx="1183.62" cy="1371.7" r="7.25" fill="#87CEEB"/>
<circle cx="1240.97" cy="1370.62" r="7.25" fill="#87CEEB"/>
<circle cx="1042.54" cy="1455.44" r="7.25" fill="#87CEEB"/>
<circle cx="1110.7" cy="1459.34" r="7.25" fill="#FF0000"/>
<circle cx="1190.77" cy="1455.01" r="7.25" fill="#87CEEB"/>
<circle cx="1253.95" cy="1474.48" r="7.25" fill="#87CEEB"/>
<circle cx="1051.63" cy="1512.78" r="7.25" fill="#87CEEB"/>
<circle cx="1099.24" cy="1515.6" r="7.25" fill="#87CEEB"/>
<circle cx="1183.19" cy="1513.43" r="7.25" fill="#87CEEB"/>
<circle cx="1268.01" cy="1522.09" r="7.25" fill="#87CEEB"/>
</g>
<g font-size="9.8" text-anchor="middle" fill="#111">
<text transform="translate(1041.89,1315.21) scale(0.93,1)">D</text>
<text transform="translate(1172.81,1306.56) scale(0.93,1)">L</text>
<text transform="translate(1234.47,1313.91) scale(0.93,1)">P</text>
<text transform="translate(1105.73,1326.9) scale(0.93,1)">H</text>
<text transform="translate(1036.05,1383.37) scale(0.93,1)">C</text>
<text transform="translate(1099.88,1382.29) scale(0.93,1)">G</text>
<text transform="translate(1183.62,1375.15) scale(0.93,1)">K</text>
<text transform="translate(1240.97,1374.07) scale(0.93,1)">O</text>
<text transform="translate(1042.54,1458.89) scale(0.93,1)">B</text>
<text transform="translate(1110.7,1462.79) scale(0.93,1)">F</text>
<text transform="translate(1190.77,1458.46) scale(0.93,1)">J</text>
<text transform="translate(1253.95,1477.93) scale(0.93,1)">N</text>
<text transform="translate(1051.63,1516.23) scale(0.93,1)">A</text>
<text transform="translate(1099.24,1519.05) scale(0.93,1)">E</text>
<text transform="translate(1183.19,1516.88) scale(0.93,1)">I</text>
<text transform="translate(1268.01,1525.54) scale(0.93,1)">M</text>
</g>
<g stroke="#6b6b6b" stroke-width="2.1" stroke-linecap="round">
<path d="M1103.4 1714.54L1087.38 1603.54"/>
<path d="M1103.4 1714.54L1056.87 1636.65"/>
<path d="M1103.4 1714.54L1038.7 1682.52"/>
<path d="M1103.4 1714.54L1035.88 1734.02"/>
<path d="M1103.4 1714.54L1049.52 1782.49"/>
<path d="M1103.4 1714.54L1076.35 1822.09"/>
<path d="M1103.4 1714.54L1129.58 1773.83"/>
<path d="M1103.4 1714.54L1174.37 1781.62"/>
<path d="M1103.4 1714.54L1157.06 1720.39"/>
<path d="M1103.4 1714.54L1179.78 1667.81"/>
<path d="M1103.4 1714.54L1134.34 1656.55"/>
<path d="M1103.4 1714.54L1159.22 1626.69"/>
<path d="M1159.22 1626.69L1179.78 1667.81"/>
<path d="M1159.22 1626.69L1203.58 1725.36"/>
<path d="M1134.34 1656.55L1203.58 1725.36"/>
<path d="M1179.78 1667.81L1203.58 1725.36"/>
<path d="M1157.06 1720.39L1203.58 1725.36"/>
<path d="M1203.58 1725.36L1268.06 1732.29"/>
<path d="M1203.58 1725.36L1129.58 1773.83"/>
<path d="M1203.58 1725.36L1174.37 1781.62"/>
<path d="M1203.58 1725.36L1146.24 1814.51"/>
<path d="M1129.58 1773.83L1146.24 1814.51"/>
</g>
<g stroke="#222" stroke-width="0.9">
<circle cx="1087.38" cy="1603.54" r="7.25" fill="#87CEEB"/>
<circle cx="1159.22" cy="1626.69" r="7.25" fill="#87CEEB"/>
<circle cx="1056.87" cy="1636.65" r="7.25" fill="#87CEEB"/>
<circle cx="1134.34" cy="1656.55" r="7.25" fill="#87CEEB"/>
<circle cx="1179.78" cy="1667.81" r="7.25" fill="#87CEEB"/>
<circle cx="1038.7" cy="1682.52" r="7.25" fill="#87CEEB"/>
<circle cx="1103.4" cy="1714.54" r="7.25" fill="#FF0000"/>
<circle cx="1157.06" cy="1720.39" r="7.25" fill="#87CEEB"/>
<circle cx="1203.58" cy="1725.36" r="7.25" fill="#FF0000"/>
<circle cx="1268.06" cy="1732.29" r="7.25" fill="#87CEEB"/>
<circle cx="1035.88" cy="1734.02" r="7.25" fill="#87CEEB"/>
<circle cx="1129.58" cy="1773.83" r="7.25" fill="#87CEEB"/>
<circle cx="1174.37" cy="1781.62" r="7.25" fill="#87CEEB"/>
<circle cx="1049.52" cy="1782.49" r="7.25" fill="#87CEEB"/>
<circle cx="1146.24" cy="1814.51" r="7.25" fill="#87CEEB"/>
<circle cx="1076.35" cy="1822.09" r="7.25" fill="#87CEEB"/>
</g>
<g font-size="9.8" text-anchor="middle" fill="#111">
<text transform="translate(1087.38,1606.99) scale(0.93,1)">D</text>
<text transform="translate(1159.22,1630.14) scale(0.93,1)">H</text>
<text transform="translate(1056.87,1640.1) scale(0.93,1)">M</text>
<text transform="translate(1134.34,1660) scale(0.93,1)">G</text>
<text transform="translate(1179.78,1671.26) scale(0.93,1)">K</text>
<text transform="translate(1038.7,1685.97) scale(0.93,1)">C</text>
<text transform="translate(1103.4,1717.99) scale(0.93,1)">F</text>
<text transform="translate(1157.06,1723.84) scale(0.93,1)">O</text>
<text transform="translate(1203.58,1728.81) scale(0.93,1)">P</text>
<text transform="translate(1268.06,1735.74) scale(0.93,1)">L</text>
<text transform="translate(1035.88,1737.47) scale(0.93,1)">B</text>
<text transform="translate(1129.58,1777.28) scale(0.93,1)">N</text>
<text transform="translate(1174.37,1785.07) scale(0.93,1)">J</text>
<text transform="translate(1049.52,1785.94) scale(0.93,1)">A</text>
<text transform="translate(1146.24,1817.96) scale(0.93,1)">I</text>
<text transform="translate(1076.35,1825.54) scale(0.93,1)">E</text>
</g>
<g stroke="#000" fill="none">
<path d="M101.2 2213.04V2210.96" stroke-width="1.1" stroke-dasharray="2 2"/>
<path d="M101.2 2218.77V2220.94" stroke-width="1.1" stroke-dasharray="2 2"/>
<path d="M91 2210.96H111.4" stroke-width="1.5"/>
<path d="M91 2220.94H111.4" stroke-width="1.5"/>
<rect x="82.2" y="2213.04" width="38" height="5.73" fill="#D3D3D3" stroke-width="1.6"/>
<path d="M82.2 2216.17H120.2" stroke-width="2.8"/>
</g>
<g stroke="#000" fill="none">
<path d="M148.7 2210.09V2201.85" stroke-width="1.1" stroke-dasharray="2 2"/>
<path d="M148.7 2219.2V2227.01" stroke-width="1.1" stroke-dasharray="2 2"/>
<path d="M138.5 2201.85H158.9" stroke-width="1.5"/>
<path d="M138.5 2227.01H158.9" stroke-width="1.5"/>
<rect x="129.7" y="2210.09" width="38" height="9.11" fill="#D3D3D3" stroke-width="1.6"/>
<path d="M129.7 2215.73H167.7" stroke-width="2.8"/>
</g>
<g stroke="#000" fill="none">
<path d="M196.2 2175.48V2161.08" stroke-width="1.1" stroke-dasharray="2 2"/>
<path d="M196.2 2191.44V2200.98" stroke-width="1.1" stroke-dasharray="2 2"/>
<path d="M186 2161.08H206.4" stroke-width="1.5"/>
<path d="M186 2200.98H206.4" stroke-width="1.5"/>
<rect x="177.2" y="2175.48" width="38" height="15.96" fill="#D3D3D3" stroke-width="1.6"/>
<path d="M177.2 2178.08H215.2" stroke-width="2.8"/>
</g>
<g stroke="#000" fill="none">
<path d="M243.7 2222.67V2220.94" stroke-width="1.1" stroke-dasharray="2 2"/>
<path d="M243.7 2232.22V2235.34" stroke-width="1.1" stroke-dasharray="2 2"/>
<path d="M233.5 2220.94H253.9" stroke-width="1.5"/>
<path d="M233.5 2235.34H253.9" stroke-width="1.5"/>
<rect x="224.7" y="2222.67" width="38" height="9.54" fill="#D3D3D3" stroke-width="1.6"/>
<path d="M224.7 2223.54H262.7" stroke-width="2.8"/>
</g>
<g stroke="#000" fill="none">
<path d="M291.2 2237.42V2236.56" stroke-width="1.1" stroke-dasharray="2 2"/>
<path d="M291.2 2243.5V2245.23" stroke-width="1.1" stroke-dasharray="2 2"/>
<path d="M281 2236.56H301.4" stroke-width="1.5"/>
<path d="M281 2245.23H301.4" stroke-width="1.5"/>
<rect x="272.2" y="2237.42" width="38" height="6.07" fill="#D3D3D3" stroke-width="1.6"/>
<path d="M272.2 2241.76H310.2" stroke-width="2.8"/>
</g>
<g stroke="#c6c6c6" stroke-width="1.3" stroke-dasharray="1.3 2.1" fill="none">
<path d="M68.2 2246.1H325"/>
<path d="M68.2 2202.72H325"/>
<path d="M68.2 2159.34H325"/>
<path d="M68.2 2115.96H325"/>
<path d="M68.2 2072.58H325"/>
<path d="M68.2 2029.2H325"/>
<path d="M101.2 2020.9V2254.7"/>
<path d="M148.7 2020.9V2254.7"/>
<path d="M196.2 2020.9V2254.7"/>
<path d="M243.7 2020.9V2254.7"/>
<path d="M291.2 2020.9V2254.7"/>
</g>
<g stroke="#000" stroke-width="1.8" fill="none">
<rect x="68.2" y="2020.9" width="256.8" height="233.8"/>
<path d="M61.8 2246.1H68.2"/>
<path d="M61.8 2202.72H68.2"/>
<path d="M61.8 2159.34H68.2"/>
<path d="M61.8 2115.96H68.2"/>
<path d="M61.8 2072.58H68.2"/>
<path d="M61.8 2029.2H68.2"/>
<path d="M101.2 2254.7V2260.9"/>
<path d="M148.7 2254.7V2260.9"/>
<path d="M196.2 2254.7V2260.9"/>
<path d="M243.7 2254.7V2260.9"/>
<path d="M291.2 2254.7V2260.9"/>
</g>
<text transform="translate(55.7,2246.1) rotate(-90) scale(0.94,1)" font-size="16" text-anchor="middle" fill="#000">0</text>
<text transform="translate(55.7,2202.72) rotate(-90) scale(0.94,1)" font-size="16" text-anchor="middle" fill="#000">50</text>
<text transform="translate(55.7,2159.34) rotate(-90) scale(0.94,1)" font-size="16" text-anchor="middle" fill="#000">100</text>
<text transform="translate(55.7,2115.96) rotate(-90) scale(0.94,1)" font-size="16" text-anchor="middle" fill="#000">150</text>
<text transform="translate(55.7,2072.58) rotate(-90) scale(0.94,1)" font-size="16" text-anchor="middle" fill="#000">200</text>
<text transform="translate(55.7,2029.2) rotate(-90) scale(0.94,1)" font-size="16" text-anchor="middle" fill="#000">250</text>
<text transform="translate(101.2,2273.8)" font-size="14.8" text-anchor="middle" fill="#000">dd</text>
<text transform="translate(148.7,2273.8)" font-size="14.8" text-anchor="middle" fill="#000">ds</text>
<text transform="translate(196.2,2273.8)" font-size="14.8" text-anchor="middle" fill="#000">pa</text>
<text transform="translate(243.7,2273.8)" font-size="14.8" text-anchor="middle" fill="#000">tr</text>
<text transform="translate(291.2,2273.8)" font-size="14.8" text-anchor="middle" fill="#000">cy</text>
<text transform="translate(196,1996.2)" font-size="20.35" text-anchor="middle" fill="#000">season = 1</text>
<text transform="translate(34.2,2137.8) rotate(-90)" font-size="20.2" text-anchor="middle" fill="#000">model = null</text>
<g stroke="#000" fill="none">
<path d="M101.2 2507.66V2501.94" stroke-width="1.1" stroke-dasharray="2 2"/>
<path d="M101.2 2515.82V2520.5" stroke-width="1.1" stroke-dasharray="2 2"/>
<path d="M91 2501.94H111.4" stroke-width="1.5"/>
<path d="M91 2520.5H111.4" stroke-width="1.5"/>
<rect x="82.2" y="2507.66" width="38" height="8.16" fill="#D3D3D3" stroke-width="1.6"/>
<path d="M82.2 2510.26H120.2" stroke-width="2.8"/>
</g>
<g stroke="#000" fill="none">
<path d="M148.7 2485.8V2474" stroke-width="1.1" stroke-dasharray="2 2"/>
<path d="M148.7 2497.94V2498.47" stroke-width="1.1" stroke-dasharray="2 2"/>
<path d="M138.5 2474H158.9" stroke-width="1.5"/>
<path d="M138.5 2498.47H158.9" stroke-width="1.5"/>
<rect x="129.7" y="2485.8" width="38" height="12.15" fill="#D3D3D3" stroke-width="1.6"/>
<path d="M129.7 2496.9H167.7" stroke-width="2.8"/>
</g>
<g stroke="#000" fill="none">
<path d="M196.2 2518.94V2504.54" stroke-width="1.1" stroke-dasharray="2 2"/>
<path d="M196.2 2531.87V2537.59" stroke-width="1.1" stroke-dasharray="2 2"/>
<path d="M186 2504.54H206.4" stroke-width="1.5"/>
<path d="M186 2537.59H206.4" stroke-width="1.5"/>
<rect x="177.2" y="2518.94" width="38" height="12.93" fill="#D3D3D3" stroke-width="1.6"/>
<path d="M177.2 2525.53H215.2" stroke-width="2.8"/>
</g>
<g stroke="#000" fill="none">
<path d="M243.7 2511.83V2498.2" stroke-width="1.1" stroke-dasharray="2 2"/>
<path d="M243.7 2526.84V2528.66" stroke-width="1.1" stroke-dasharray="2 2"/>
<path d="M233.5 2498.2H253.9" stroke-width="1.5"/>
<path d="M233.5 2528.66H253.9" stroke-width="1.5"/>
<rect x="224.7" y="2511.83" width="38" height="15.01" fill="#D3D3D3" stroke-width="1.6"/>
<path d="M224.7 2521.54H262.7" stroke-width="2.8"/>
</g>
<g stroke="#000" fill="none">
<path d="M291.2 2559.46V2557.29" stroke-width="1.1" stroke-dasharray="2 2"/>
<path d="M281 2557.29H301.4" stroke-width="1.5"/>
<path d="M281 2561.8H301.4" stroke-width="1.5"/>
<rect x="272.2" y="2559.46" width="38" height="2.34" fill="#D3D3D3" stroke-width="1.6"/>
<path d="M272.2 2561.8H310.2" stroke-width="2.8"/>
</g>
<g stroke="#c6c6c6" stroke-width="1.3" stroke-dasharray="1.3 2.1" fill="none">
<path d="M68.2 2561.8H325"/>
<path d="M68.2 2518.42H325"/>
<path d="M68.2 2475.04H325"/>
<path d="M68.2 2431.66H325"/>
<path d="M68.2 2388.28H325"/>
<path d="M68.2 2344.9H325"/>
<path d="M101.2 2336.6V2570.4"/>
<path d="M148.7 2336.6V2570.4"/>
<path d="M196.2 2336.6V2570.4"/>
<path d="M243.7 2336.6V2570.4"/>
<path d="M291.2 2336.6V2570.4"/>
</g>
<g stroke="#000" stroke-width="1.8" fill="none">
<rect x="68.2" y="2336.6" width="256.8" height="233.8"/>
<path d="M61.8 2561.8H68.2"/>
<path d="M61.8 2518.42H68.2"/>
<path d="M61.8 2475.04H68.2"/>
<path d="M61.8 2431.66H68.2"/>
<path d="M61.8 2388.28H68.2"/>
<path d="M61.8 2344.9H68.2"/>
<path d="M101.2 2570.4V2576.6"/>
<path d="M148.7 2570.4V2576.6"/>
<path d="M196.2 2570.4V2576.6"/>
<path d="M243.7 2570.4V2576.6"/>
<path d="M291.2 2570.4V2576.6"/>
</g>
<text transform="translate(55.7,2561.8) rotate(-90) scale(0.94,1)" font-size="16" text-anchor="middle" fill="#000">0</text>
<text transform="translate(55.7,2518.42) rotate(-90) scale(0.94,1)" font-size="16" text-anchor="middle" fill="#000">50</text>
<text transform="translate(55.7,2475.04) rotate(-90) scale(0.94,1)" font-size="16" text-anchor="middle" fill="#000">100</text>
<text transform="translate(55.7,2431.66) rotate(-90) scale(0.94,1)" font-size="16" text-anchor="middle" fill="#000">150</text>
<text transform="translate(55.7,2388.28) rotate(-90) scale(0.94,1)" font-size="16" text-anchor="middle" fill="#000">200</text>
<text transform="translate(55.7,2344.9) rotate(-90) scale(0.94,1)" font-size="16" text-anchor="middle" fill="#000">250</text>
<text transform="translate(101.2,2589.5)" font-size="14.8" text-anchor="middle" fill="#000">dd</text>
<text transform="translate(148.7,2589.5)" font-size="14.8" text-anchor="middle" fill="#000">ds</text>
<text transform="translate(196.2,2589.5)" font-size="14.8" text-anchor="middle" fill="#000">pa</text>
<text transform="translate(243.7,2589.5)" font-size="14.8" text-anchor="middle" fill="#000">tr</text>
<text transform="translate(291.2,2589.5)" font-size="14.8" text-anchor="middle" fill="#000">cy</text>
<text transform="translate(34.2,2453.5) rotate(-90)" font-size="20.2" text-anchor="middle" fill="#000">model = winner−loser</text>
<g stroke="#000" fill="none">
<path d="M415.13 2210.88V2210.09" stroke-width="1.1" stroke-dasharray="2 2"/>
<path d="M415.13 2217.21V2220.94" stroke-width="1.1" stroke-dasharray="2 2"/>
<path d="M404.93 2210.09H425.33" stroke-width="1.5"/>
<path d="M404.93 2220.94H425.33" stroke-width="1.5"/>
<rect x="396.13" y="2210.88" width="38" height="6.33" fill="#D3D3D3" stroke-width="1.6"/>
<path d="M396.13 2214.35H434.13" stroke-width="2.8"/>
<circle cx="415.13" cy="2200.12" r="2" stroke-width="1.2"/>
</g>
<g stroke="#000" fill="none">
<path d="M462.63 2204.63V2199.08" stroke-width="1.1" stroke-dasharray="2 2"/>
<path d="M462.63 2218.51V2223.54" stroke-width="1.1" stroke-dasharray="2 2"/>
<path d="M452.43 2199.08H472.83" stroke-width="1.5"/>
<path d="M452.43 2223.54H472.83" stroke-width="1.5"/>
<rect x="443.63" y="2204.63" width="38" height="13.88" fill="#D3D3D3" stroke-width="1.6"/>
<path d="M443.63 2205.93H481.63" stroke-width="2.8"/>
</g>
<g stroke="#000" fill="none">
<path d="M510.13 2166.8V2166.63" stroke-width="1.1" stroke-dasharray="2 2"/>
<path d="M510.13 2182.07V2187.28" stroke-width="1.1" stroke-dasharray="2 2"/>
<path d="M499.93 2166.63H520.33" stroke-width="1.5"/>
<path d="M499.93 2187.28H520.33" stroke-width="1.5"/>
<rect x="491.13" y="2166.8" width="38" height="15.27" fill="#D3D3D3" stroke-width="1.6"/>
<path d="M491.13 2170.97H529.13" stroke-width="2.8"/>
</g>
<g stroke="#000" fill="none">
<path d="M557.63 2219.81V2216.43" stroke-width="1.1" stroke-dasharray="2 2"/>
<path d="M557.63 2226.93V2228.75" stroke-width="1.1" stroke-dasharray="2 2"/>
<path d="M547.43 2216.43H567.83" stroke-width="1.5"/>
<path d="M547.43 2228.75H567.83" stroke-width="1.5"/>
<rect x="538.63" y="2219.81" width="38" height="7.11" fill="#D3D3D3" stroke-width="1.6"/>
<path d="M538.63 2221.72H576.63" stroke-width="2.8"/>
</g>
<g stroke="#000" fill="none">
<path d="M605.13 2237.42V2236.9" stroke-width="1.1" stroke-dasharray="2 2"/>
<path d="M605.13 2240.29V2241.94" stroke-width="1.1" stroke-dasharray="2 2"/>
<path d="M594.93 2236.9H615.33" stroke-width="1.5"/>
<path d="M594.93 2241.94H615.33" stroke-width="1.5"/>
<rect x="586.13" y="2237.42" width="38" height="2.86" fill="#D3D3D3" stroke-width="1.6"/>
<path d="M586.13 2238.47H624.13" stroke-width="2.8"/>
<circle cx="605.13" cy="2232.74" r="2" stroke-width="1.2"/>
</g>
<g stroke="#c6c6c6" stroke-width="1.3" stroke-dasharray="1.3 2.1" fill="none">
<path d="M382.13 2246.1H638.93"/>
<path d="M382.13 2202.72H638.93"/>
<path d="M382.13 2159.34H638.93"/>
<path d="M382.13 2115.96H638.93"/>
<path d="M382.13 2072.58H638.93"/>
<path d="M382.13 2029.2H638.93"/>
<path d="M415.13 2020.9V2254.7"/>
<path d="M462.63 2020.9V2254.7"/>
<path d="M510.13 2020.9V2254.7"/>
<path d="M557.63 2020.9V2254.7"/>
<path d="M605.13 2020.9V2254.7"/>
</g>
<g stroke="#000" stroke-width="1.8" fill="none">
<rect x="382.13" y="2020.9" width="256.8" height="233.8"/>
<path d="M375.73 2246.1H382.13"/>
<path d="M375.73 2202.72H382.13"/>
<path d="M375.73 2159.34H382.13"/>
<path d="M375.73 2115.96H382.13"/>
<path d="M375.73 2072.58H382.13"/>
<path d="M375.73 2029.2H382.13"/>
<path d="M415.13 2254.7V2260.9"/>
<path d="M462.63 2254.7V2260.9"/>
<path d="M510.13 2254.7V2260.9"/>
<path d="M557.63 2254.7V2260.9"/>
<path d="M605.13 2254.7V2260.9"/>
</g>
<text transform="translate(369.63,2246.1) rotate(-90) scale(0.94,1)" font-size="16" text-anchor="middle" fill="#000">0</text>
<text transform="translate(369.63,2202.72) rotate(-90) scale(0.94,1)" font-size="16" text-anchor="middle" fill="#000">50</text>
<text transform="translate(369.63,2159.34) rotate(-90) scale(0.94,1)" font-size="16" text-anchor="middle" fill="#000">100</text>
<text transform="translate(369.63,2115.96) rotate(-90) scale(0.94,1)" font-size="16" text-anchor="middle" fill="#000">150</text>
<text transform="translate(369.63,2072.58) rotate(-90) scale(0.94,1)" font-size="16" text-anchor="middle" fill="#000">200</text>
<text transform="translate(369.63,2029.2) rotate(-90) scale(0.94,1)" font-size="16" text-anchor="middle" fill="#000">250</text>
<text transform="translate(415.13,2273.8)" font-size="14.8" text-anchor="middle" fill="#000">dd</text>
<text transform="translate(462.63,2273.8)" font-size="14.8" text-anchor="middle" fill="#000">ds</text>
<text transform="translate(510.13,2273.8)" font-size="14.8" text-anchor="middle" fill="#000">pa</text>
<text transform="translate(557.63,2273.8)" font-size="14.8" text-anchor="middle" fill="#000">tr</text>
<text transform="translate(605.13,2273.8)" font-size="14.8" text-anchor="middle" fill="#000">cy</text>
<text transform="translate(509.93,1996.2)" font-size="20.35" text-anchor="middle" fill="#000">season = 5</text>
<g stroke="#000" fill="none">
<path d="M415.13 2408.76V2403.9" stroke-width="1.1" stroke-dasharray="2 2"/>
<path d="M415.13 2424.81V2429.06" stroke-width="1.1" stroke-dasharray="2 2"/>
<path d="M404.93 2403.9H425.33" stroke-width="1.5"/>
<path d="M404.93 2429.06H425.33" stroke-width="1.5"/>
<rect x="396.13" y="2408.76" width="38" height="16.05" fill="#D3D3D3" stroke-width="1.6"/>
<path d="M396.13 2409.97H434.13" stroke-width="2.8"/>
</g>
<g stroke="#000" fill="none">
<path d="M462.63 2483.72V2482.85" stroke-width="1.1" stroke-dasharray="2 2"/>
<path d="M462.63 2496.56V2501.07" stroke-width="1.1" stroke-dasharray="2 2"/>
<path d="M452.43 2482.85H472.83" stroke-width="1.5"/>
<path d="M452.43 2501.07H472.83" stroke-width="1.5"/>
<rect x="443.63" y="2483.72" width="38" height="12.84" fill="#D3D3D3" stroke-width="1.6"/>
<path d="M443.63 2493.95H481.63" stroke-width="2.8"/>
</g>
<g stroke="#000" fill="none">
<path d="M510.13 2548.35V2546.01" stroke-width="1.1" stroke-dasharray="2 2"/>
<path d="M510.13 2555.47V2560.76" stroke-width="1.1" stroke-dasharray="2 2"/>
<path d="M499.93 2546.01H520.33" stroke-width="1.5"/>
<path d="M499.93 2560.76H520.33" stroke-width="1.5"/>
<rect x="491.13" y="2548.35" width="38" height="7.11" fill="#D3D3D3" stroke-width="1.6"/>
<path d="M491.13 2551.39H529.13" stroke-width="2.8"/>
</g>
<g stroke="#000" fill="none">
<path d="M557.63 2523.63V2501.94" stroke-width="1.1" stroke-dasharray="2 2"/>
<path d="M557.63 2540.98V2548.61" stroke-width="1.1" stroke-dasharray="2 2"/>
<path d="M547.43 2501.94H567.83" stroke-width="1.5"/>
<path d="M547.43 2548.61H567.83" stroke-width="1.5"/>
<rect x="538.63" y="2523.63" width="38" height="17.35" fill="#D3D3D3" stroke-width="1.6"/>
<path d="M538.63 2524.75H576.63" stroke-width="2.8"/>
</g>
<g stroke="#000" fill="none">
<path d="M594.93 2561.28H615.33" stroke-width="1.5"/>
<path d="M594.93 2561.8H615.33" stroke-width="1.5"/>
<rect x="586.13" y="2561.28" width="38" height="0.52" fill="#D3D3D3" stroke-width="1.6"/>
<path d="M586.13 2561.8H624.13" stroke-width="2.8"/>
</g>
<g stroke="#c6c6c6" stroke-width="1.3" stroke-dasharray="1.3 2.1" fill="none">
<path d="M382.13 2561.8H638.93"/>
<path d="M382.13 2518.42H638.93"/>
<path d="M382.13 2475.04H638.93"/>
<path d="M382.13 2431.66H638.93"/>
<path d="M382.13 2388.28H638.93"/>
<path d="M382.13 2344.9H638.93"/>
<path d="M415.13 2336.6V2570.4"/>
<path d="M462.63 2336.6V2570.4"/>
<path d="M510.13 2336.6V2570.4"/>
<path d="M557.63 2336.6V2570.4"/>
<path d="M605.13 2336.6V2570.4"/>
</g>
<g stroke="#000" stroke-width="1.8" fill="none">
<rect x="382.13" y="2336.6" width="256.8" height="233.8"/>
<path d="M375.73 2561.8H382.13"/>
<path d="M375.73 2518.42H382.13"/>
<path d="M375.73 2475.04H382.13"/>
<path d="M375.73 2431.66H382.13"/>
<path d="M375.73 2388.28H382.13"/>
<path d="M375.73 2344.9H382.13"/>
<path d="M415.13 2570.4V2576.6"/>
<path d="M462.63 2570.4V2576.6"/>
<path d="M510.13 2570.4V2576.6"/>
<path d="M557.63 2570.4V2576.6"/>
<path d="M605.13 2570.4V2576.6"/>
</g>
<text transform="translate(369.63,2561.8) rotate(-90) scale(0.94,1)" font-size="16" text-anchor="middle" fill="#000">0</text>
<text transform="translate(369.63,2518.42) rotate(-90) scale(0.94,1)" font-size="16" text-anchor="middle" fill="#000">50</text>
<text transform="translate(369.63,2475.04) rotate(-90) scale(0.94,1)" font-size="16" text-anchor="middle" fill="#000">100</text>
<text transform="translate(369.63,2431.66) rotate(-90) scale(0.94,1)" font-size="16" text-anchor="middle" fill="#000">150</text>
<text transform="translate(369.63,2388.28) rotate(-90) scale(0.94,1)" font-size="16" text-anchor="middle" fill="#000">200</text>
<text transform="translate(369.63,2344.9) rotate(-90) scale(0.94,1)" font-size="16" text-anchor="middle" fill="#000">250</text>
<text transform="translate(415.13,2589.5)" font-size="14.8" text-anchor="middle" fill="#000">dd</text>
<text transform="translate(462.63,2589.5)" font-size="14.8" text-anchor="middle" fill="#000">ds</text>
<text transform="translate(510.13,2589.5)" font-size="14.8" text-anchor="middle" fill="#000">pa</text>
<text transform="translate(557.63,2589.5)" font-size="14.8" text-anchor="middle" fill="#000">tr</text>
<text transform="translate(605.13,2589.5)" font-size="14.8" text-anchor="middle" fill="#000">cy</text>
<g stroke="#000" fill="none">
<path d="M729.06 2207.75V2207.06" stroke-width="1.1" stroke-dasharray="2 2"/>
<path d="M729.06 2217.73V2226.15" stroke-width="1.1" stroke-dasharray="2 2"/>
<path d="M718.86 2207.06H739.26" stroke-width="1.5"/>
<path d="M718.86 2226.15H739.26" stroke-width="1.5"/>
<rect x="710.06" y="2207.75" width="38" height="9.98" fill="#D3D3D3" stroke-width="1.6"/>
<path d="M710.06 2213.57H748.06" stroke-width="2.8"/>
</g>
<g stroke="#000" fill="none">
<path d="M776.56 2215.13V2214.87" stroke-width="1.1" stroke-dasharray="2 2"/>
<path d="M776.56 2219.81V2220.07" stroke-width="1.1" stroke-dasharray="2 2"/>
<path d="M766.36 2214.87H786.76" stroke-width="1.5"/>
<path d="M766.36 2220.07H786.76" stroke-width="1.5"/>
<rect x="757.56" y="2215.13" width="38" height="4.69" fill="#D3D3D3" stroke-width="1.6"/>
<path d="M757.56 2217.73H795.56" stroke-width="2.8"/>
<circle cx="776.56" cy="2206.19" r="2" stroke-width="1.2"/>
<circle cx="776.56" cy="2230.31" r="2" stroke-width="1.2"/>
</g>
<g stroke="#000" fill="none">
<path d="M824.06 2180.42V2179.73" stroke-width="1.1" stroke-dasharray="2 2"/>
<path d="M824.06 2191.44V2203.59" stroke-width="1.1" stroke-dasharray="2 2"/>
<path d="M813.86 2179.73H834.26" stroke-width="1.5"/>
<path d="M813.86 2203.59H834.26" stroke-width="1.5"/>
<rect x="805.06" y="2180.42" width="38" height="11.02" fill="#D3D3D3" stroke-width="1.6"/>
<path d="M805.06 2183.63H843.06" stroke-width="2.8"/>
</g>
<g stroke="#000" fill="none">
<path d="M871.56 2220.94V2217.21" stroke-width="1.1" stroke-dasharray="2 2"/>
<path d="M871.56 2230.83V2242.46" stroke-width="1.1" stroke-dasharray="2 2"/>
<path d="M861.36 2217.21H881.76" stroke-width="1.5"/>
<path d="M861.36 2242.46H881.76" stroke-width="1.5"/>
<rect x="852.56" y="2220.94" width="38" height="9.89" fill="#D3D3D3" stroke-width="1.6"/>
<path d="M852.56 2226.15H890.56" stroke-width="2.8"/>
</g>
<g stroke="#000" fill="none">
<path d="M919.06 2237.42V2236.9" stroke-width="1.1" stroke-dasharray="2 2"/>
<path d="M919.06 2240.89V2243.24" stroke-width="1.1" stroke-dasharray="2 2"/>
<path d="M908.86 2236.9H929.26" stroke-width="1.5"/>
<path d="M908.86 2243.24H929.26" stroke-width="1.5"/>
<rect x="900.06" y="2237.42" width="38" height="3.47" fill="#D3D3D3" stroke-width="1.6"/>
<path d="M900.06 2238.99H938.06" stroke-width="2.8"/>
</g>
<g stroke="#c6c6c6" stroke-width="1.3" stroke-dasharray="1.3 2.1" fill="none">
<path d="M696.06 2246.1H952.86"/>
<path d="M696.06 2202.72H952.86"/>
<path d="M696.06 2159.34H952.86"/>
<path d="M696.06 2115.96H952.86"/>
<path d="M696.06 2072.58H952.86"/>
<path d="M696.06 2029.2H952.86"/>
<path d="M729.06 2020.9V2254.7"/>
<path d="M776.56 2020.9V2254.7"/>
<path d="M824.06 2020.9V2254.7"/>
<path d="M871.56 2020.9V2254.7"/>
<path d="M919.06 2020.9V2254.7"/>
</g>
<g stroke="#000" stroke-width="1.8" fill="none">
<rect x="696.06" y="2020.9" width="256.8" height="233.8"/>
<path d="M689.66 2246.1H696.06"/>
<path d="M689.66 2202.72H696.06"/>
<path d="M689.66 2159.34H696.06"/>
<path d="M689.66 2115.96H696.06"/>
<path d="M689.66 2072.58H696.06"/>
<path d="M689.66 2029.2H696.06"/>
<path d="M729.06 2254.7V2260.9"/>
<path d="M776.56 2254.7V2260.9"/>
<path d="M824.06 2254.7V2260.9"/>
<path d="M871.56 2254.7V2260.9"/>
<path d="M919.06 2254.7V2260.9"/>
</g>
<text transform="translate(683.56,2246.1) rotate(-90) scale(0.94,1)" font-size="16" text-anchor="middle" fill="#000">0</text>
<text transform="translate(683.56,2202.72) rotate(-90) scale(0.94,1)" font-size="16" text-anchor="middle" fill="#000">50</text>
<text transform="translate(683.56,2159.34) rotate(-90) scale(0.94,1)" font-size="16" text-anchor="middle" fill="#000">100</text>
<text transform="translate(683.56,2115.96) rotate(-90) scale(0.94,1)" font-size="16" text-anchor="middle" fill="#000">150</text>
<text transform="translate(683.56,2072.58) rotate(-90) scale(0.94,1)" font-size="16" text-anchor="middle" fill="#000">200</text>
<text transform="translate(683.56,2029.2) rotate(-90) scale(0.94,1)" font-size="16" text-anchor="middle" fill="#000">250</text>
<text transform="translate(729.06,2273.8)" font-size="14.8" text-anchor="middle" fill="#000">dd</text>
<text transform="translate(776.56,2273.8)" font-size="14.8" text-anchor="middle" fill="#000">ds</text>
<text transform="translate(824.06,2273.8)" font-size="14.8" text-anchor="middle" fill="#000">pa</text>
<text transform="translate(871.56,2273.8)" font-size="14.8" text-anchor="middle" fill="#000">tr</text>
<text transform="translate(919.06,2273.8)" font-size="14.8" text-anchor="middle" fill="#000">cy</text>
<text transform="translate(823.86,1996.2)" font-size="20.35" text-anchor="middle" fill="#000">season = 10</text>
<g stroke="#000" fill="none">
<path d="M729.06 2417.43V2415.35" stroke-width="1.1" stroke-dasharray="2 2"/>
<path d="M729.06 2433.74V2443.98" stroke-width="1.1" stroke-dasharray="2 2"/>
<path d="M718.86 2415.35H739.26" stroke-width="1.5"/>
<path d="M718.86 2443.98H739.26" stroke-width="1.5"/>
<rect x="710.06" y="2417.43" width="38" height="16.31" fill="#D3D3D3" stroke-width="1.6"/>
<path d="M710.06 2423.24H748.06" stroke-width="2.8"/>
<circle cx="729.06" cy="2379.6" r="2" stroke-width="1.2"/>
</g>
<g stroke="#000" fill="none">
<path d="M776.56 2511.57V2506.1" stroke-width="1.1" stroke-dasharray="2 2"/>
<path d="M776.56 2544.97V2554.69" stroke-width="1.1" stroke-dasharray="2 2"/>
<path d="M766.36 2506.1H786.76" stroke-width="1.5"/>
<path d="M766.36 2554.69H786.76" stroke-width="1.5"/>
<rect x="757.56" y="2511.57" width="38" height="33.4" fill="#D3D3D3" stroke-width="1.6"/>
<path d="M757.56 2519.46H795.56" stroke-width="2.8"/>
</g>
<g stroke="#000" fill="none">
<path d="M824.06 2554.69V2553.64" stroke-width="1.1" stroke-dasharray="2 2"/>
<path d="M824.06 2558.94V2561.54" stroke-width="1.1" stroke-dasharray="2 2"/>
<path d="M813.86 2553.64H834.26" stroke-width="1.5"/>
<path d="M813.86 2561.54H834.26" stroke-width="1.5"/>
<rect x="805.06" y="2554.69" width="38" height="4.25" fill="#D3D3D3" stroke-width="1.6"/>
<path d="M805.06 2557.03H843.06" stroke-width="2.8"/>
</g>
<g stroke="#000" fill="none">
<path d="M871.56 2537.33V2536.99" stroke-width="1.1" stroke-dasharray="2 2"/>
<path d="M871.56 2539.42V2539.76" stroke-width="1.1" stroke-dasharray="2 2"/>
<path d="M861.36 2536.99H881.76" stroke-width="1.5"/>
<path d="M861.36 2539.76H881.76" stroke-width="1.5"/>
<rect x="852.56" y="2537.33" width="38" height="2.08" fill="#D3D3D3" stroke-width="1.6"/>
<path d="M852.56 2538.37H890.56" stroke-width="2.8"/>
<circle cx="871.56" cy="2532.91" r="2" stroke-width="1.2"/>
<circle cx="871.56" cy="2554.69" r="2" stroke-width="1.2"/>
</g>
<g stroke="#000" fill="none">
<path d="M908.86 2561.28H929.26" stroke-width="1.5"/>
<path d="M908.86 2561.8H929.26" stroke-width="1.5"/>
<rect x="900.06" y="2561.28" width="38" height="0.52" fill="#D3D3D3" stroke-width="1.6"/>
<path d="M900.06 2561.8H938.06" stroke-width="2.8"/>
</g>
<g stroke="#c6c6c6" stroke-width="1.3" stroke-dasharray="1.3 2.1" fill="none">
<path d="M696.06 2561.8H952.86"/>
<path d="M696.06 2518.42H952.86"/>
<path d="M696.06 2475.04H952.86"/>
<path d="M696.06 2431.66H952.86"/>
<path d="M696.06 2388.28H952.86"/>
<path d="M696.06 2344.9H952.86"/>
<path d="M729.06 2336.6V2570.4"/>
<path d="M776.56 2336.6V2570.4"/>
<path d="M824.06 2336.6V2570.4"/>
<path d="M871.56 2336.6V2570.4"/>
<path d="M919.06 2336.6V2570.4"/>
</g>
<g stroke="#000" stroke-width="1.8" fill="none">
<rect x="696.06" y="2336.6" width="256.8" height="233.8"/>
<path d="M689.66 2561.8H696.06"/>
<path d="M689.66 2518.42H696.06"/>
<path d="M689.66 2475.04H696.06"/>
<path d="M689.66 2431.66H696.06"/>
<path d="M689.66 2388.28H696.06"/>
<path d="M689.66 2344.9H696.06"/>
<path d="M729.06 2570.4V2576.6"/>
<path d="M776.56 2570.4V2576.6"/>
<path d="M824.06 2570.4V2576.6"/>
<path d="M871.56 2570.4V2576.6"/>
<path d="M919.06 2570.4V2576.6"/>
</g>
<text transform="translate(683.56,2561.8) rotate(-90) scale(0.94,1)" font-size="16" text-anchor="middle" fill="#000">0</text>
<text transform="translate(683.56,2518.42) rotate(-90) scale(0.94,1)" font-size="16" text-anchor="middle" fill="#000">50</text>
<text transform="translate(683.56,2475.04) rotate(-90) scale(0.94,1)" font-size="16" text-anchor="middle" fill="#000">100</text>
<text transform="translate(683.56,2431.66) rotate(-90) scale(0.94,1)" font-size="16" text-anchor="middle" fill="#000">150</text>
<text transform="translate(683.56,2388.28) rotate(-90) scale(0.94,1)" font-size="16" text-anchor="middle" fill="#000">200</text>
<text transform="translate(683.56,2344.9) rotate(-90) scale(0.94,1)" font-size="16" text-anchor="middle" fill="#000">250</text>
<text transform="translate(729.06,2589.5)" font-size="14.8" text-anchor="middle" fill="#000">dd</text>
<text transform="translate(776.56,2589.5)" font-size="14.8" text-anchor="middle" fill="#000">ds</text>
<text transform="translate(824.06,2589.5)" font-size="14.8" text-anchor="middle" fill="#000">pa</text>
<text transform="translate(871.56,2589.5)" font-size="14.8" text-anchor="middle" fill="#000">tr</text>
<text transform="translate(919.06,2589.5)" font-size="14.8" text-anchor="middle" fill="#000">cy</text>
<g stroke="#000" fill="none">
<path d="M1042.99 2209.31V2205.15" stroke-width="1.1" stroke-dasharray="2 2"/>
<path d="M1042.99 2214.35V2217.47" stroke-width="1.1" stroke-dasharray="2 2"/>
<path d="M1032.79 2205.15H1053.19" stroke-width="1.5"/>
<path d="M1032.79 2217.47H1053.19" stroke-width="1.5"/>
<rect x="1023.99" y="2209.31" width="38" height="5.03" fill="#D3D3D3" stroke-width="1.6"/>
<path d="M1023.99 2211.74H1061.99" stroke-width="2.8"/>
</g>
<g stroke="#000" fill="none">
<path d="M1090.49 2207.49V2207.06" stroke-width="1.1" stroke-dasharray="2 2"/>
<path d="M1090.49 2217.99V2220.59" stroke-width="1.1" stroke-dasharray="2 2"/>
<path d="M1080.29 2207.06H1100.69" stroke-width="1.5"/>
<path d="M1080.29 2220.59H1100.69" stroke-width="1.5"/>
<rect x="1071.49" y="2207.49" width="38" height="10.5" fill="#D3D3D3" stroke-width="1.6"/>
<path d="M1071.49 2211.4H1109.49" stroke-width="2.8"/>
</g>
<g stroke="#000" fill="none">
<path d="M1137.99 2172.87V2153.27" stroke-width="1.1" stroke-dasharray="2 2"/>
<path d="M1137.99 2190.66V2194.39" stroke-width="1.1" stroke-dasharray="2 2"/>
<path d="M1127.79 2153.27H1148.19" stroke-width="1.5"/>
<path d="M1127.79 2194.39H1148.19" stroke-width="1.5"/>
<rect x="1118.99" y="2172.87" width="38" height="17.79" fill="#D3D3D3" stroke-width="1.6"/>
<path d="M1118.99 2174.44H1156.99" stroke-width="2.8"/>
</g>
<g stroke="#000" fill="none">
<path d="M1185.49 2223.28V2222.76" stroke-width="1.1" stroke-dasharray="2 2"/>
<path d="M1185.49 2231.7V2232.39" stroke-width="1.1" stroke-dasharray="2 2"/>
<path d="M1175.29 2222.76H1195.69" stroke-width="1.5"/>
<path d="M1175.29 2232.39H1195.69" stroke-width="1.5"/>
<rect x="1166.49" y="2223.28" width="38" height="8.42" fill="#D3D3D3" stroke-width="1.6"/>
<path d="M1166.49 2224.06H1204.49" stroke-width="2.8"/>
<circle cx="1185.49" cy="2210.35" r="2" stroke-width="1.2"/>
</g>
<g stroke="#000" fill="none">
<path d="M1232.99 2236.38V2236.04" stroke-width="1.1" stroke-dasharray="2 2"/>
<path d="M1232.99 2239.51V2241.76" stroke-width="1.1" stroke-dasharray="2 2"/>
<path d="M1222.79 2236.04H1243.19" stroke-width="1.5"/>
<path d="M1222.79 2241.76H1243.19" stroke-width="1.5"/>
<rect x="1213.99" y="2236.38" width="38" height="3.12" fill="#D3D3D3" stroke-width="1.6"/>
<path d="M1213.99 2237.94H1251.99" stroke-width="2.8"/>
<circle cx="1232.99" cy="2232.74" r="2" stroke-width="1.2"/>
</g>
<g stroke="#c6c6c6" stroke-width="1.3" stroke-dasharray="1.3 2.1" fill="none">
<path d="M1009.99 2246.1H1266.79"/>
<path d="M1009.99 2202.72H1266.79"/>
<path d="M1009.99 2159.34H1266.79"/>
<path d="M1009.99 2115.96H1266.79"/>
<path d="M1009.99 2072.58H1266.79"/>
<path d="M1009.99 2029.2H1266.79"/>
<path d="M1042.99 2020.9V2254.7"/>
<path d="M1090.49 2020.9V2254.7"/>
<path d="M1137.99 2020.9V2254.7"/>
<path d="M1185.49 2020.9V2254.7"/>
<path d="M1232.99 2020.9V2254.7"/>
</g>
<g stroke="#000" stroke-width="1.8" fill="none">
<rect x="1009.99" y="2020.9" width="256.8" height="233.8"/>
<path d="M1003.59 2246.1H1009.99"/>
<path d="M1003.59 2202.72H1009.99"/>
<path d="M1003.59 2159.34H1009.99"/>
<path d="M1003.59 2115.96H1009.99"/>
<path d="M1003.59 2072.58H1009.99"/>
<path d="M1003.59 2029.2H1009.99"/>
<path d="M1042.99 2254.7V2260.9"/>
<path d="M1090.49 2254.7V2260.9"/>
<path d="M1137.99 2254.7V2260.9"/>
<path d="M1185.49 2254.7V2260.9"/>
<path d="M1232.99 2254.7V2260.9"/>
</g>
<text transform="translate(997.49,2246.1) rotate(-90) scale(0.94,1)" font-size="16" text-anchor="middle" fill="#000">0</text>
<text transform="translate(997.49,2202.72) rotate(-90) scale(0.94,1)" font-size="16" text-anchor="middle" fill="#000">50</text>
<text transform="translate(997.49,2159.34) rotate(-90) scale(0.94,1)" font-size="16" text-anchor="middle" fill="#000">100</text>
<text transform="translate(997.49,2115.96) rotate(-90) scale(0.94,1)" font-size="16" text-anchor="middle" fill="#000">150</text>
<text transform="translate(997.49,2072.58) rotate(-90) scale(0.94,1)" font-size="16" text-anchor="middle" fill="#000">200</text>
<text transform="translate(997.49,2029.2) rotate(-90) scale(0.94,1)" font-size="16" text-anchor="middle" fill="#000">250</text>
<text transform="translate(1042.99,2273.8)" font-size="14.8" text-anchor="middle" fill="#000">dd</text>
<text transform="translate(1090.49,2273.8)" font-size="14.8" text-anchor="middle" fill="#000">ds</text>
<text transform="translate(1137.99,2273.8)" font-size="14.8" text-anchor="middle" fill="#000">pa</text>
<text transform="translate(1185.49,2273.8)" font-size="14.8" text-anchor="middle" fill="#000">tr</text>
<text transform="translate(1232.99,2273.8)" font-size="14.8" text-anchor="middle" fill="#000">cy</text>
<text transform="translate(1137.79,1996.2)" font-size="20.35" text-anchor="middle" fill="#000">season = 30</text>
<g stroke="#000" fill="none">
<path d="M1042.99 2428.54V2415.87" stroke-width="1.1" stroke-dasharray="2 2"/>
<path d="M1042.99 2460.55V2469.83" stroke-width="1.1" stroke-dasharray="2 2"/>
<path d="M1032.79 2415.87H1053.19" stroke-width="1.5"/>
<path d="M1032.79 2469.83H1053.19" stroke-width="1.5"/>
<rect x="1023.99" y="2428.54" width="38" height="32.01" fill="#D3D3D3" stroke-width="1.6"/>
<path d="M1023.99 2438.25H1061.99" stroke-width="2.8"/>
</g>
<g stroke="#000" fill="none">
<path d="M1090.49 2548.96V2544.97" stroke-width="1.1" stroke-dasharray="2 2"/>
<path d="M1090.49 2556.25V2561.8" stroke-width="1.1" stroke-dasharray="2 2"/>
<path d="M1080.29 2544.97H1100.69" stroke-width="1.5"/>
<path d="M1080.29 2561.8H1100.69" stroke-width="1.5"/>
<rect x="1071.49" y="2548.96" width="38" height="7.29" fill="#D3D3D3" stroke-width="1.6"/>
<path d="M1071.49 2554.95H1109.49" stroke-width="2.8"/>
<circle cx="1090.49" cy="2532.91" r="2" stroke-width="1.2"/>
</g>
<g stroke="#000" fill="none">
<path d="M1137.99 2557.29V2554.69" stroke-width="1.1" stroke-dasharray="2 2"/>
<path d="M1137.99 2560.76V2561.8" stroke-width="1.1" stroke-dasharray="2 2"/>
<path d="M1127.79 2554.69H1148.19" stroke-width="1.5"/>
<path d="M1127.79 2561.8H1148.19" stroke-width="1.5"/>
<rect x="1118.99" y="2557.29" width="38" height="3.47" fill="#D3D3D3" stroke-width="1.6"/>
<path d="M1118.99 2558.68H1156.99" stroke-width="2.8"/>
</g>
<g stroke="#000" fill="none">
<path d="M1185.49 2551.3V2544.97" stroke-width="1.1" stroke-dasharray="2 2"/>
<path d="M1185.49 2558.68V2561.8" stroke-width="1.1" stroke-dasharray="2 2"/>
<path d="M1175.29 2544.97H1195.69" stroke-width="1.5"/>
<path d="M1175.29 2561.8H1195.69" stroke-width="1.5"/>
<rect x="1166.49" y="2551.3" width="38" height="7.37" fill="#D3D3D3" stroke-width="1.6"/>
<path d="M1166.49 2554.69H1204.49" stroke-width="2.8"/>
</g>
<g stroke="#000" fill="none">
<path d="M1222.79 2561.28H1243.19" stroke-width="1.5"/>
<path d="M1222.79 2561.8H1243.19" stroke-width="1.5"/>
<rect x="1213.99" y="2561.28" width="38" height="0.52" fill="#D3D3D3" stroke-width="1.6"/>
<path d="M1213.99 2561.8H1251.99" stroke-width="2.8"/>
</g>
<g stroke="#c6c6c6" stroke-width="1.3" stroke-dasharray="1.3 2.1" fill="none">
<path d="M1009.99 2561.8H1266.79"/>
<path d="M1009.99 2518.42H1266.79"/>
<path d="M1009.99 2475.04H1266.79"/>
<path d="M1009.99 2431.66H1266.79"/>
<path d="M1009.99 2388.28H1266.79"/>
<path d="M1009.99 2344.9H1266.79"/>
<path d="M1042.99 2336.6V2570.4"/>
<path d="M1090.49 2336.6V2570.4"/>
<path d="M1137.99 2336.6V2570.4"/>
<path d="M1185.49 2336.6V2570.4"/>
<path d="M1232.99 2336.6V2570.4"/>
</g>
<g stroke="#000" stroke-width="1.8" fill="none">
<rect x="1009.99" y="2336.6" width="256.8" height="233.8"/>
<path d="M1003.59 2561.8H1009.99"/>
<path d="M1003.59 2518.42H1009.99"/>
<path d="M1003.59 2475.04H1009.99"/>
<path d="M1003.59 2431.66H1009.99"/>
<path d="M1003.59 2388.28H1009.99"/>
<path d="M1003.59 2344.9H1009.99"/>
<path d="M1042.99 2570.4V2576.6"/>
<path d="M1090.49 2570.4V2576.6"/>
<path d="M1137.99 2570.4V2576.6"/>
<path d="M1185.49 2570.4V2576.6"/>
<path d="M1232.99 2570.4V2576.6"/>
</g>
<text transform="translate(997.49,2561.8) rotate(-90) scale(0.94,1)" font-size="16" text-anchor="middle" fill="#000">0</text>
<text transform="translate(997.49,2518.42) rotate(-90) scale(0.94,1)" font-size="16" text-anchor="middle" fill="#000">50</text>
<text transform="translate(997.49,2475.04) rotate(-90) scale(0.94,1)" font-size="16" text-anchor="middle" fill="#000">100</text>
<text transform="translate(997.49,2431.66) rotate(-90) scale(0.94,1)" font-size="16" text-anchor="middle" fill="#000">150</text>
<text transform="translate(997.49,2388.28) rotate(-90) scale(0.94,1)" font-size="16" text-anchor="middle" fill="#000">200</text>
<text transform="translate(997.49,2344.9) rotate(-90) scale(0.94,1)" font-size="16" text-anchor="middle" fill="#000">250</text>
<text transform="translate(1042.99,2589.5)" font-size="14.8" text-anchor="middle" fill="#000">dd</text>
<text transform="translate(1090.49,2589.5)" font-size="14.8" text-anchor="middle" fill="#000">ds</text>
<text transform="translate(1137.99,2589.5)" font-size="14.8" text-anchor="middle" fill="#000">pa</text>
<text transform="translate(1185.49,2589.5)" font-size="14.8" text-anchor="middle" fill="#000">tr</text>
<text transform="translate(1232.99,2589.5)" font-size="14.8" text-anchor="middle" fill="#000">cy</text>
</svg>
</body></html>
